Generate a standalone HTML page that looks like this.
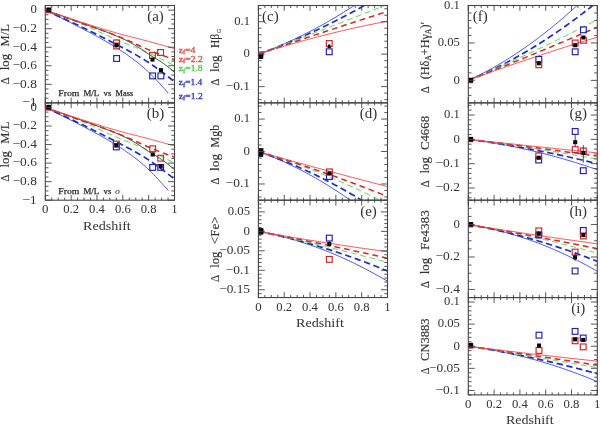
<!DOCTYPE html>
<html><head><meta charset="utf-8"><style>
html,body{margin:0;padding:0;background:#fff;}
body{width:600px;height:424px;overflow:hidden;font-family:"Liberation Serif",serif;}
svg{display:block;filter:blur(0.35px);}
</style></head><body>
<svg width="600" height="424" viewBox="0 0 600 424" font-family="Liberation Serif, serif" fill="#333">
<rect width="600" height="424" fill="#fff"/>
<clipPath id="cpa"><rect x="45.30" y="5.50" width="129.20" height="97.35"/></clipPath>
<g clip-path="url(#cpa)" fill="none" stroke-linecap="butt"><polyline points="45.30,10.14 47.38,11.16 49.47,12.18 51.55,13.21 53.64,14.23 55.72,15.26 57.81,16.29 59.89,17.32 61.98,18.35 64.06,19.39 66.15,20.43 68.23,21.47 70.32,22.51 72.40,23.56 74.49,24.62 76.57,25.68 78.66,26.74 80.74,27.81 82.82,28.89 84.91,29.97 86.99,31.06 89.08,32.16 91.16,33.26 93.25,34.38 95.33,35.51 97.42,36.64 99.50,37.79 101.59,38.96 103.67,40.14 105.76,41.33 107.84,42.55 109.93,43.78 112.01,45.03 114.10,46.30 116.18,47.59 118.27,48.91 120.35,50.24 122.43,51.61 124.52,53.00 126.60,54.42 128.69,55.88 130.77,57.37 132.86,58.91 134.94,60.49 137.03,62.12 139.11,63.80 141.20,65.53 143.28,67.32 145.37,69.17 147.45,71.08 149.54,73.06 151.62,75.10 153.71,77.22 155.79,79.38 157.87,81.60 159.96,83.85 162.04,86.14 164.13,88.45 166.21,90.78 168.30,93.11" stroke="#3545d0" stroke-width="0.9"/><polyline points="45.30,10.14 47.49,11.14 49.68,12.14 51.87,13.14 54.06,14.14 56.25,15.14 58.44,16.15 60.63,17.15 62.82,18.16 65.01,19.18 67.20,20.19 69.39,21.22 71.58,22.24 73.77,23.27 75.96,24.30 78.15,25.34 80.34,26.39 82.53,27.44 84.72,28.50 86.91,29.56 89.10,30.63 91.29,31.71 93.48,32.79 95.67,33.88 97.86,34.98 100.05,36.08 102.24,37.18 104.43,38.29 106.62,39.41 108.81,40.53 110.99,41.65 113.18,42.78 115.37,43.91 117.56,45.04 119.75,46.18 121.94,47.32 124.13,48.46 126.32,49.62 128.51,50.78 130.70,51.96 132.89,53.16 135.08,54.38 137.27,55.63 139.46,56.90 141.65,58.19 143.84,59.53 146.03,60.90 148.22,62.30 150.41,63.75 152.60,65.25 154.79,66.78 156.98,68.35 159.17,69.95 161.36,71.58 163.55,73.23 165.74,74.90 167.93,76.59 170.12,78.29 172.31,80.00 174.50,81.71" stroke="#1f2fb8" stroke-width="1.7" stroke-dasharray="6.4 3.6"/><polyline points="45.30,10.14 47.49,10.93 49.68,11.73 51.87,12.53 54.06,13.33 56.25,14.13 58.44,14.94 60.63,15.76 62.82,16.58 65.01,17.41 67.20,18.25 69.39,19.10 71.58,19.95 73.77,20.82 75.96,21.70 78.15,22.60 80.34,23.50 82.53,24.43 84.72,25.36 86.91,26.32 89.10,27.29 91.29,28.27 93.48,29.26 95.67,30.26 97.86,31.27 100.05,32.27 102.24,33.28 104.43,34.29 106.62,35.29 108.81,36.29 110.99,37.28 113.18,38.26 115.37,39.22 117.56,40.17 119.75,41.10 121.94,42.01 124.13,42.91 126.32,43.79 128.51,44.66 130.70,45.52 132.89,46.38 135.08,47.25 137.27,48.11 139.46,48.99 141.65,49.88 143.84,50.79 146.03,51.71 148.22,52.66 150.41,53.64 152.60,54.65 154.79,55.68 156.98,56.74 159.17,57.82 161.36,58.92 163.55,60.04 165.74,61.17 167.93,62.31 170.12,63.45 172.31,64.61 174.50,65.76" stroke="#78d878" stroke-width="1.1" stroke-dasharray="5.8 3.7"/><polyline points="45.30,10.14 47.49,10.91 49.68,11.68 51.87,12.45 54.06,13.23 56.25,14.00 58.44,14.77 60.63,15.55 62.82,16.32 65.01,17.10 67.20,17.87 69.39,18.65 71.58,19.43 73.77,20.20 75.96,20.98 78.15,21.76 80.34,22.54 82.53,23.33 84.72,24.11 86.91,24.90 89.10,25.68 91.29,26.47 93.48,27.26 95.67,28.05 97.86,28.85 100.05,29.64 102.24,30.44 104.43,31.25 106.62,32.06 108.81,32.89 110.99,33.74 113.18,34.61 115.37,35.50 117.56,36.42 119.75,37.37 121.94,38.36 124.13,39.38 126.32,40.45 128.51,41.56 130.70,42.72 132.89,43.94 135.08,45.22 137.27,46.55 139.46,47.96 141.65,49.42 143.84,50.91 146.03,52.41 148.22,53.87 150.41,55.29 152.60,56.63 154.79,57.92 156.98,59.21 159.17,60.54 161.36,61.96 163.55,63.50 165.74,65.13 167.93,66.84 170.12,68.61 172.31,70.42 174.50,72.25" stroke="#333" stroke-width="0.9"/><polyline points="45.30,10.14 47.49,10.92 49.68,11.71 51.87,12.50 54.06,13.29 56.25,14.08 58.44,14.86 60.63,15.65 62.82,16.43 65.01,17.22 67.20,18.00 69.39,18.78 71.58,19.56 73.77,20.33 75.96,21.11 78.15,21.88 80.34,22.65 82.53,23.42 84.72,24.19 86.91,24.95 89.10,25.72 91.29,26.48 93.48,27.24 95.67,28.01 97.86,28.78 100.05,29.55 102.24,30.33 104.43,31.12 106.62,31.92 108.81,32.73 110.99,33.55 113.18,34.39 115.37,35.24 117.56,36.11 119.75,36.99 121.94,37.89 124.13,38.81 126.32,39.76 128.51,40.72 130.70,41.70 132.89,42.70 135.08,43.70 137.27,44.70 139.46,45.70 141.65,46.70 143.84,47.69 146.03,48.67 148.22,49.64 150.41,50.58 152.60,51.50 154.79,52.39 156.98,53.26 159.17,54.11 161.36,54.95 163.55,55.77 165.74,56.58 167.93,57.38 170.12,58.17 172.31,58.95 174.50,59.74" stroke="#cc2a2a" stroke-width="1.5" stroke-dasharray="5.8 3.9"/><polyline points="45.30,10.14 47.49,10.87 49.68,11.60 51.87,12.33 54.06,13.06 56.25,13.79 58.44,14.52 60.63,15.25 62.82,15.98 65.01,16.71 67.20,17.43 69.39,18.16 71.58,18.88 73.77,19.60 75.96,20.32 78.15,21.04 80.34,21.75 82.53,22.47 84.72,23.18 86.91,23.89 89.10,24.59 91.29,25.30 93.48,26.00 95.67,26.69 97.86,27.38 100.05,28.06 102.24,28.74 104.43,29.42 106.62,30.08 108.81,30.74 110.99,31.39 113.18,32.03 115.37,32.66 117.56,33.28 119.75,33.89 121.94,34.49 124.13,35.09 126.32,35.66 128.51,36.23 130.70,36.79 132.89,37.35 135.08,37.90 137.27,38.46 139.46,39.02 141.65,39.58 143.84,40.15 146.03,40.73 148.22,41.31 150.41,41.90 152.60,42.50 154.79,43.10 156.98,43.70 159.17,44.30 161.36,44.91 163.55,45.53 165.74,46.14 167.93,46.76 170.12,47.37 172.31,47.99 174.50,48.61" stroke="#e8474a" stroke-width="0.9"/></g>
<g clip-path="url(#cpa)"><rect x="113.70" y="55.60" width="5.8" height="5.8" fill="none" stroke="#2020a6" stroke-width="1.15"/><rect x="149.70" y="73.00" width="5.8" height="5.8" fill="none" stroke="#2020a6" stroke-width="1.15"/><rect x="158.00" y="73.00" width="5.8" height="5.8" fill="none" stroke="#2020a6" stroke-width="1.15"/><rect x="46.50" y="8.50" width="4.2" height="4.2" fill="none" stroke="#bb2a2a" stroke-width="1.15"/><rect x="113.70" y="40.00" width="5.8" height="5.8" fill="none" stroke="#bb2a2a" stroke-width="1.15"/><rect x="113.70" y="43.10" width="5.8" height="5.8" fill="none" stroke="#bb2a2a" stroke-width="1.15"/><rect x="149.60" y="52.60" width="5.8" height="5.8" fill="none" stroke="#bb2a2a" stroke-width="1.15"/><rect x="157.70" y="49.60" width="5.8" height="5.8" fill="none" stroke="#bb2a2a" stroke-width="1.15"/><rect x="46.60" y="7.50" width="4.6" height="4.6" fill="#000"/><rect x="114.60" y="43.20" width="4.0" height="4.0" fill="#000"/><rect x="150.50" y="57.60" width="4.0" height="4.0" fill="#000"/><rect x="158.90" y="68.10" width="4.0" height="4.0" fill="#000"/></g>
<path d="M45.30 102.85h6.4M174.50 102.85h-6.4M45.30 98.21h3.2M174.50 98.21h-3.2M45.30 93.58h3.2M174.50 93.58h-3.2M45.30 88.94h3.2M174.50 88.94h-3.2M45.30 84.31h6.4M174.50 84.31h-6.4M45.30 79.67h3.2M174.50 79.67h-3.2M45.30 75.04h3.2M174.50 75.04h-3.2M45.30 70.40h3.2M174.50 70.40h-3.2M45.30 65.76h6.4M174.50 65.76h-6.4M45.30 61.13h3.2M174.50 61.13h-3.2M45.30 56.49h3.2M174.50 56.49h-3.2M45.30 51.86h3.2M174.50 51.86h-3.2M45.30 47.22h6.4M174.50 47.22h-6.4M45.30 42.59h3.2M174.50 42.59h-3.2M45.30 37.95h3.2M174.50 37.95h-3.2M45.30 33.31h3.2M174.50 33.31h-3.2M45.30 28.68h6.4M174.50 28.68h-6.4M45.30 24.04h3.2M174.50 24.04h-3.2M45.30 19.41h3.2M174.50 19.41h-3.2M45.30 14.77h3.2M174.50 14.77h-3.2M45.30 10.14h6.4M174.50 10.14h-6.4M45.30 5.50h3.2M174.50 5.50h-3.2M45.30 102.85v-5.3M45.30 5.50v5.3M51.76 102.85v-2.6M51.76 5.50v2.6M58.22 102.85v-2.6M58.22 5.50v2.6M64.68 102.85v-2.6M64.68 5.50v2.6M71.14 102.85v-5.3M71.14 5.50v5.3M77.60 102.85v-2.6M77.60 5.50v2.6M84.06 102.85v-2.6M84.06 5.50v2.6M90.52 102.85v-2.6M90.52 5.50v2.6M96.98 102.85v-5.3M96.98 5.50v5.3M103.44 102.85v-2.6M103.44 5.50v2.6M109.90 102.85v-2.6M109.90 5.50v2.6M116.36 102.85v-2.6M116.36 5.50v2.6M122.82 102.85v-5.3M122.82 5.50v5.3M129.28 102.85v-2.6M129.28 5.50v2.6M135.74 102.85v-2.6M135.74 5.50v2.6M142.20 102.85v-2.6M142.20 5.50v2.6M148.66 102.85v-5.3M148.66 5.50v5.3M155.12 102.85v-2.6M155.12 5.50v2.6M161.58 102.85v-2.6M161.58 5.50v2.6M168.04 102.85v-2.6M168.04 5.50v2.6M174.50 102.85v-5.3M174.50 5.50v5.3" stroke="#444" stroke-width="0.9" fill="none"/>
<rect x="45.30" y="5.50" width="129.20" height="97.35" fill="none" stroke="#444" stroke-width="1.1"/>
<text x="36.90" y="13.44" text-anchor="end" font-size="12.5" textLength="6.4" lengthAdjust="spacingAndGlyphs">0</text>
<text x="36.90" y="31.98" text-anchor="end" font-size="12.5" textLength="24.4" lengthAdjust="spacingAndGlyphs">−0.2</text>
<text x="36.90" y="50.52" text-anchor="end" font-size="12.5" textLength="24.4" lengthAdjust="spacingAndGlyphs">−0.4</text>
<text x="36.90" y="69.06" text-anchor="end" font-size="12.5" textLength="24.4" lengthAdjust="spacingAndGlyphs">−0.6</text>
<text x="36.90" y="87.61" text-anchor="end" font-size="12.5" textLength="24.4" lengthAdjust="spacingAndGlyphs">−0.8</text>
<text x="36.90" y="106.15" text-anchor="end" font-size="12.5" textLength="15.0" lengthAdjust="spacingAndGlyphs">−1</text>
<text x="155.50" y="21.00" text-anchor="middle" font-size="15">(a)</text>
<clipPath id="cpb"><rect x="45.30" y="102.85" width="129.20" height="97.35"/></clipPath>
<g clip-path="url(#cpb)" fill="none" stroke-linecap="butt"><polyline points="45.30,107.49 47.38,108.51 49.47,109.53 51.55,110.56 53.64,111.58 55.72,112.61 57.81,113.64 59.89,114.67 61.98,115.70 64.06,116.74 66.15,117.78 68.23,118.82 70.32,119.86 72.40,120.91 74.49,121.97 76.57,123.03 78.66,124.09 80.74,125.16 82.82,126.24 84.91,127.32 86.99,128.41 89.08,129.51 91.16,130.61 93.25,131.73 95.33,132.86 97.42,133.99 99.50,135.14 101.59,136.31 103.67,137.49 105.76,138.68 107.84,139.90 109.93,141.13 112.01,142.38 114.10,143.65 116.18,144.94 118.27,146.26 120.35,147.59 122.43,148.96 124.52,150.35 126.60,151.77 128.69,153.23 130.77,154.72 132.86,156.26 134.94,157.84 137.03,159.47 139.11,161.15 141.20,162.88 143.28,164.67 145.37,166.52 147.45,168.43 149.54,170.41 151.62,172.45 153.71,174.57 155.79,176.73 157.87,178.95 159.96,181.20 162.04,183.49 164.13,185.80 166.21,188.13 168.30,190.46" stroke="#3545d0" stroke-width="0.9"/><polyline points="45.30,107.49 47.49,108.49 49.68,109.49 51.87,110.49 54.06,111.49 56.25,112.49 58.44,113.50 60.63,114.50 62.82,115.51 65.01,116.53 67.20,117.54 69.39,118.57 71.58,119.59 73.77,120.62 75.96,121.65 78.15,122.69 80.34,123.74 82.53,124.79 84.72,125.85 86.91,126.91 89.10,127.98 91.29,129.06 93.48,130.14 95.67,131.23 97.86,132.33 100.05,133.43 102.24,134.53 104.43,135.64 106.62,136.76 108.81,137.88 110.99,139.00 113.18,140.13 115.37,141.26 117.56,142.39 119.75,143.53 121.94,144.67 124.13,145.81 126.32,146.97 128.51,148.13 130.70,149.31 132.89,150.51 135.08,151.73 137.27,152.98 139.46,154.25 141.65,155.54 143.84,156.88 146.03,158.25 148.22,159.65 150.41,161.10 152.60,162.60 154.79,164.13 156.98,165.70 159.17,167.30 161.36,168.93 163.55,170.58 165.74,172.25 167.93,173.94 170.12,175.64 172.31,177.35 174.50,179.06" stroke="#1f2fb8" stroke-width="1.7" stroke-dasharray="6.4 3.6"/><polyline points="45.30,107.49 47.49,108.28 49.68,109.08 51.87,109.88 54.06,110.68 56.25,111.48 58.44,112.29 60.63,113.11 62.82,113.93 65.01,114.76 67.20,115.60 69.39,116.45 71.58,117.30 73.77,118.17 75.96,119.05 78.15,119.95 80.34,120.85 82.53,121.78 84.72,122.71 86.91,123.67 89.10,124.64 91.29,125.62 93.48,126.61 95.67,127.61 97.86,128.62 100.05,129.62 102.24,130.63 104.43,131.64 106.62,132.64 108.81,133.64 110.99,134.63 113.18,135.61 115.37,136.57 117.56,137.52 119.75,138.45 121.94,139.36 124.13,140.26 126.32,141.14 128.51,142.01 130.70,142.87 132.89,143.73 135.08,144.60 137.27,145.46 139.46,146.34 141.65,147.23 143.84,148.14 146.03,149.06 148.22,150.01 150.41,150.99 152.60,152.00 154.79,153.03 156.98,154.09 159.17,155.17 161.36,156.27 163.55,157.39 165.74,158.52 167.93,159.66 170.12,160.80 172.31,161.96 174.50,163.11" stroke="#78d878" stroke-width="1.1" stroke-dasharray="5.8 3.7"/><polyline points="45.30,107.49 47.49,108.26 49.68,109.03 51.87,109.80 54.06,110.58 56.25,111.35 58.44,112.12 60.63,112.90 62.82,113.67 65.01,114.45 67.20,115.22 69.39,116.00 71.58,116.78 73.77,117.55 75.96,118.33 78.15,119.11 80.34,119.89 82.53,120.68 84.72,121.46 86.91,122.25 89.10,123.03 91.29,123.82 93.48,124.61 95.67,125.40 97.86,126.20 100.05,126.99 102.24,127.79 104.43,128.60 106.62,129.41 108.81,130.24 110.99,131.09 113.18,131.96 115.37,132.85 117.56,133.77 119.75,134.72 121.94,135.71 124.13,136.73 126.32,137.80 128.51,138.91 130.70,140.07 132.89,141.29 135.08,142.57 137.27,143.90 139.46,145.31 141.65,146.77 143.84,148.26 146.03,149.76 148.22,151.22 150.41,152.64 152.60,153.98 154.79,155.27 156.98,156.56 159.17,157.89 161.36,159.31 163.55,160.85 165.74,162.48 167.93,164.19 170.12,165.96 172.31,167.77 174.50,169.60" stroke="#333" stroke-width="0.9"/><polyline points="45.30,107.49 47.49,108.27 49.68,109.06 51.87,109.85 54.06,110.64 56.25,111.43 58.44,112.21 60.63,113.00 62.82,113.78 65.01,114.57 67.20,115.35 69.39,116.13 71.58,116.91 73.77,117.68 75.96,118.46 78.15,119.23 80.34,120.00 82.53,120.77 84.72,121.54 86.91,122.30 89.10,123.07 91.29,123.83 93.48,124.59 95.67,125.36 97.86,126.13 100.05,126.90 102.24,127.68 104.43,128.47 106.62,129.27 108.81,130.08 110.99,130.90 113.18,131.74 115.37,132.59 117.56,133.46 119.75,134.34 121.94,135.24 124.13,136.16 126.32,137.11 128.51,138.07 130.70,139.05 132.89,140.05 135.08,141.05 137.27,142.05 139.46,143.05 141.65,144.05 143.84,145.04 146.03,146.02 148.22,146.99 150.41,147.93 152.60,148.85 154.79,149.74 156.98,150.61 159.17,151.46 161.36,152.30 163.55,153.12 165.74,153.93 167.93,154.73 170.12,155.52 172.31,156.30 174.50,157.09" stroke="#cc2a2a" stroke-width="1.5" stroke-dasharray="5.8 3.9"/><polyline points="45.30,107.49 47.49,108.22 49.68,108.95 51.87,109.68 54.06,110.41 56.25,111.14 58.44,111.87 60.63,112.60 62.82,113.33 65.01,114.06 67.20,114.78 69.39,115.51 71.58,116.23 73.77,116.95 75.96,117.67 78.15,118.39 80.34,119.10 82.53,119.82 84.72,120.53 86.91,121.24 89.10,121.94 91.29,122.65 93.48,123.35 95.67,124.04 97.86,124.73 100.05,125.41 102.24,126.09 104.43,126.77 106.62,127.43 108.81,128.09 110.99,128.74 113.18,129.38 115.37,130.01 117.56,130.63 119.75,131.24 121.94,131.84 124.13,132.44 126.32,133.01 128.51,133.58 130.70,134.14 132.89,134.70 135.08,135.25 137.27,135.81 139.46,136.37 141.65,136.93 143.84,137.50 146.03,138.08 148.22,138.66 150.41,139.25 152.60,139.85 154.79,140.45 156.98,141.05 159.17,141.65 161.36,142.26 163.55,142.88 165.74,143.49 167.93,144.11 170.12,144.72 172.31,145.34 174.50,145.96" stroke="#e8474a" stroke-width="0.9"/></g>
<g clip-path="url(#cpb)"><rect x="113.40" y="144.00" width="5.8" height="5.8" fill="none" stroke="#2020a6" stroke-width="1.15"/><rect x="149.80" y="164.50" width="5.8" height="5.8" fill="none" stroke="#2020a6" stroke-width="1.15"/><rect x="157.80" y="164.50" width="5.8" height="5.8" fill="none" stroke="#2020a6" stroke-width="1.15"/><rect x="46.50" y="105.80" width="4.2" height="4.2" fill="none" stroke="#bb2a2a" stroke-width="1.15"/><rect x="113.40" y="141.20" width="5.8" height="5.8" fill="none" stroke="#bb2a2a" stroke-width="1.15"/><rect x="149.80" y="145.90" width="5.8" height="5.8" fill="none" stroke="#bb2a2a" stroke-width="1.15"/><rect x="157.80" y="155.30" width="5.8" height="5.8" fill="none" stroke="#bb2a2a" stroke-width="1.15"/><rect x="46.60" y="104.80" width="4.6" height="4.6" fill="#000"/><rect x="114.30" y="143.30" width="4.0" height="4.0" fill="#000"/><rect x="150.70" y="152.50" width="4.0" height="4.0" fill="#000"/><rect x="158.70" y="164.40" width="4.0" height="4.0" fill="#000"/></g>
<path d="M45.30 200.20h6.4M174.50 200.20h-6.4M45.30 195.56h3.2M174.50 195.56h-3.2M45.30 190.93h3.2M174.50 190.93h-3.2M45.30 186.29h3.2M174.50 186.29h-3.2M45.30 181.66h6.4M174.50 181.66h-6.4M45.30 177.02h3.2M174.50 177.02h-3.2M45.30 172.39h3.2M174.50 172.39h-3.2M45.30 167.75h3.2M174.50 167.75h-3.2M45.30 163.11h6.4M174.50 163.11h-6.4M45.30 158.48h3.2M174.50 158.48h-3.2M45.30 153.84h3.2M174.50 153.84h-3.2M45.30 149.21h3.2M174.50 149.21h-3.2M45.30 144.57h6.4M174.50 144.57h-6.4M45.30 139.94h3.2M174.50 139.94h-3.2M45.30 135.30h3.2M174.50 135.30h-3.2M45.30 130.66h3.2M174.50 130.66h-3.2M45.30 126.03h6.4M174.50 126.03h-6.4M45.30 121.39h3.2M174.50 121.39h-3.2M45.30 116.76h3.2M174.50 116.76h-3.2M45.30 112.12h3.2M174.50 112.12h-3.2M45.30 107.49h6.4M174.50 107.49h-6.4M45.30 102.85h3.2M174.50 102.85h-3.2M45.30 200.20v-5.3M45.30 102.85v5.3M51.76 200.20v-2.6M51.76 102.85v2.6M58.22 200.20v-2.6M58.22 102.85v2.6M64.68 200.20v-2.6M64.68 102.85v2.6M71.14 200.20v-5.3M71.14 102.85v5.3M77.60 200.20v-2.6M77.60 102.85v2.6M84.06 200.20v-2.6M84.06 102.85v2.6M90.52 200.20v-2.6M90.52 102.85v2.6M96.98 200.20v-5.3M96.98 102.85v5.3M103.44 200.20v-2.6M103.44 102.85v2.6M109.90 200.20v-2.6M109.90 102.85v2.6M116.36 200.20v-2.6M116.36 102.85v2.6M122.82 200.20v-5.3M122.82 102.85v5.3M129.28 200.20v-2.6M129.28 102.85v2.6M135.74 200.20v-2.6M135.74 102.85v2.6M142.20 200.20v-2.6M142.20 102.85v2.6M148.66 200.20v-5.3M148.66 102.85v5.3M155.12 200.20v-2.6M155.12 102.85v2.6M161.58 200.20v-2.6M161.58 102.85v2.6M168.04 200.20v-2.6M168.04 102.85v2.6M174.50 200.20v-5.3M174.50 102.85v5.3" stroke="#444" stroke-width="0.9" fill="none"/>
<rect x="45.30" y="102.85" width="129.20" height="97.35" fill="none" stroke="#444" stroke-width="1.1"/>
<text x="36.90" y="110.79" text-anchor="end" font-size="12.5" textLength="6.4" lengthAdjust="spacingAndGlyphs">0</text>
<text x="36.90" y="129.33" text-anchor="end" font-size="12.5" textLength="24.4" lengthAdjust="spacingAndGlyphs">−0.2</text>
<text x="36.90" y="147.87" text-anchor="end" font-size="12.5" textLength="24.4" lengthAdjust="spacingAndGlyphs">−0.4</text>
<text x="36.90" y="166.41" text-anchor="end" font-size="12.5" textLength="24.4" lengthAdjust="spacingAndGlyphs">−0.6</text>
<text x="36.90" y="184.96" text-anchor="end" font-size="12.5" textLength="24.4" lengthAdjust="spacingAndGlyphs">−0.8</text>
<text x="36.90" y="203.50" text-anchor="end" font-size="12.5" textLength="15.0" lengthAdjust="spacingAndGlyphs">−1</text>
<text x="155.50" y="118.35" text-anchor="middle" font-size="15">(b)</text>
<clipPath id="cpc"><rect x="258.40" y="5.50" width="129.10" height="97.35"/></clipPath>
<g clip-path="url(#cpc)" fill="none" stroke-linecap="butt"><polyline points="258.40,54.17 260.59,53.37 262.78,52.56 264.96,51.73 267.15,50.89 269.34,50.03 271.53,49.16 273.72,48.27 275.91,47.37 278.09,46.45 280.28,45.52 282.47,44.58 284.66,43.62 286.85,42.64 289.03,41.66 291.22,40.65 293.41,39.64 295.60,38.60 297.79,37.56 299.97,36.50 302.16,35.42 304.35,34.33 306.54,33.23 308.73,32.11 310.92,30.98 313.10,29.83 315.29,28.67 317.48,27.49 319.67,26.30 321.86,25.09 324.04,23.87 326.23,22.64 328.42,21.39 330.61,20.12 332.80,18.85 334.98,17.55 337.17,16.25 339.36,14.92 341.55,13.59 343.74,12.24 345.93,10.87 348.11,9.49 350.30,8.10 352.49,6.69 354.68,5.27 356.87,3.83 359.05,2.38 361.24,0.91 363.43,-0.57 365.62,-2.07 367.81,-3.58 369.99,-5.10 372.18,-6.64 374.37,-8.19 376.56,-9.76 378.75,-11.34 380.94,-12.94 383.12,-14.55 385.31,-16.18 387.50,-17.82" stroke="#3545d0" stroke-width="0.9"/><polyline points="258.40,54.17 260.59,53.38 262.78,52.58 264.96,51.78 267.15,50.96 269.34,50.13 271.53,49.30 273.72,48.45 275.91,47.60 278.09,46.74 280.28,45.86 282.47,44.98 284.66,44.09 286.85,43.20 289.03,42.29 291.22,41.37 293.41,40.45 295.60,39.51 297.79,38.57 299.97,37.62 302.16,36.66 304.35,35.69 306.54,34.71 308.73,33.72 310.92,32.72 313.10,31.72 315.29,30.70 317.48,29.68 319.67,28.65 321.86,27.60 324.04,26.55 326.23,25.49 328.42,24.42 330.61,23.35 332.80,22.26 334.98,21.16 337.17,20.06 339.36,18.95 341.55,17.82 343.74,16.69 345.93,15.55 348.11,14.40 350.30,13.24 352.49,12.08 354.68,10.90 356.87,9.72 359.05,8.52 361.24,7.32 363.43,6.11 365.62,4.89 367.81,3.66 369.99,2.42 372.18,1.17 374.37,-0.09 376.56,-1.35 378.75,-2.63 380.94,-3.91 383.12,-5.21 385.31,-6.51 387.50,-7.82" stroke="#1f2fb8" stroke-width="1.7" stroke-dasharray="6.4 3.6"/><polyline points="258.40,54.17 260.59,53.35 262.78,52.53 264.96,51.70 267.15,50.88 269.34,50.05 271.53,49.23 273.72,48.40 275.91,47.57 278.09,46.74 280.28,45.91 282.47,45.08 284.66,44.25 286.85,43.42 289.03,42.59 291.22,41.76 293.41,40.93 295.60,40.09 297.79,39.26 299.97,38.42 302.16,37.59 304.35,36.75 306.54,35.91 308.73,35.07 310.92,34.24 313.10,33.40 315.29,32.56 317.48,31.72 319.67,30.87 321.86,30.03 324.04,29.19 326.23,28.35 328.42,27.50 330.61,26.66 332.80,25.81 334.98,24.96 337.17,24.12 339.36,23.27 341.55,22.42 343.74,21.57 345.93,20.72 348.11,19.87 350.30,19.02 352.49,18.17 354.68,17.32 356.87,16.46 359.05,15.61 361.24,14.76 363.43,13.90 365.62,13.05 367.81,12.19 369.99,11.33 372.18,10.47 374.37,9.62 376.56,8.76 378.75,7.90 380.94,7.04 383.12,6.17 385.31,5.31 387.50,4.45" stroke="#78d878" stroke-width="1.1" stroke-dasharray="5.8 3.7"/><polyline points="258.40,54.17 260.59,53.42 262.78,52.67 264.96,51.91 267.15,51.16 269.34,50.41 271.53,49.66 273.72,48.92 275.91,48.17 278.09,47.42 280.28,46.68 282.47,45.93 284.66,45.19 286.85,44.45 289.03,43.71 291.22,42.97 293.41,42.23 295.60,41.49 297.79,40.76 299.97,40.02 302.16,39.29 304.35,38.56 306.54,37.82 308.73,37.09 310.92,36.36 313.10,35.63 315.29,34.91 317.48,34.18 319.67,33.45 321.86,32.73 324.04,32.01 326.23,31.28 328.42,30.56 330.61,29.84 332.80,29.12 334.98,28.41 337.17,27.69 339.36,26.97 341.55,26.26 343.74,25.55 345.93,24.83 348.11,24.12 350.30,23.41 352.49,22.70 354.68,22.00 356.87,21.29 359.05,20.58 361.24,19.88 363.43,19.17 365.62,18.47 367.81,17.77 369.99,17.07 372.18,16.37 374.37,15.67 376.56,14.97 378.75,14.28 380.94,13.58 383.12,12.89 385.31,12.20 387.50,11.50" stroke="#cc2a2a" stroke-width="1.5" stroke-dasharray="5.8 3.9"/><polyline points="258.40,54.17 260.59,53.47 262.78,52.77 264.96,52.08 267.15,51.39 269.34,50.71 271.53,50.03 273.72,49.35 275.91,48.69 278.09,48.02 280.28,47.36 282.47,46.71 284.66,46.06 286.85,45.42 289.03,44.78 291.22,44.14 293.41,43.52 295.60,42.89 297.79,42.27 299.97,41.66 302.16,41.05 304.35,40.45 306.54,39.85 308.73,39.25 310.92,38.67 313.10,38.08 315.29,37.50 317.48,36.93 319.67,36.36 321.86,35.80 324.04,35.24 326.23,34.68 328.42,34.13 330.61,33.59 332.80,33.05 334.98,32.52 337.17,31.99 339.36,31.47 341.55,30.95 343.74,30.43 345.93,29.92 348.11,29.42 350.30,28.92 352.49,28.43 354.68,27.94 356.87,27.46 359.05,26.98 361.24,26.50 363.43,26.03 365.62,25.57 367.81,25.11 369.99,24.66 372.18,24.21 374.37,23.76 376.56,23.33 378.75,22.89 380.94,22.46 383.12,22.04 385.31,21.62 387.50,21.21" stroke="#e8474a" stroke-width="0.9"/></g>
<g clip-path="url(#cpc)"><rect x="326.35" y="48.85" width="5.8" height="5.8" fill="none" stroke="#2020a6" stroke-width="1.15"/><rect x="258.70" y="51.90" width="4.2" height="4.2" fill="none" stroke="#bb2a2a" stroke-width="1.15"/><rect x="326.35" y="40.60" width="5.8" height="5.8" fill="none" stroke="#bb2a2a" stroke-width="1.15"/><rect x="258.50" y="54.00" width="4.6" height="4.6" fill="#000"/><rect x="258.6" y="54.2" width="4.50" height="4.60" fill="#000"/><rect x="328.1" y="44.5" width="2.30" height="2.00" fill="#000"/><rect x="327.6" y="46.4" width="3.30" height="1.60" fill="#000"/></g>
<path d="M258.40 99.61h3.2M387.50 99.61h-3.2M258.40 93.12h3.2M387.50 93.12h-3.2M258.40 86.62h6.4M387.50 86.62h-6.4M258.40 80.13h3.2M387.50 80.13h-3.2M258.40 73.64h3.2M387.50 73.64h-3.2M258.40 67.16h3.2M387.50 67.16h-3.2M258.40 60.66h3.2M387.50 60.66h-3.2M258.40 54.17h6.4M387.50 54.17h-6.4M258.40 47.69h3.2M387.50 47.69h-3.2M258.40 41.19h3.2M387.50 41.19h-3.2M258.40 34.70h3.2M387.50 34.70h-3.2M258.40 28.21h3.2M387.50 28.21h-3.2M258.40 21.72h6.4M387.50 21.72h-6.4M258.40 15.23h3.2M387.50 15.23h-3.2M258.40 8.74h3.2M387.50 8.74h-3.2M258.40 102.85v-5.3M258.40 5.50v5.3M264.85 102.85v-2.6M264.85 5.50v2.6M271.31 102.85v-2.6M271.31 5.50v2.6M277.76 102.85v-2.6M277.76 5.50v2.6M284.22 102.85v-5.3M284.22 5.50v5.3M290.67 102.85v-2.6M290.67 5.50v2.6M297.13 102.85v-2.6M297.13 5.50v2.6M303.58 102.85v-2.6M303.58 5.50v2.6M310.04 102.85v-5.3M310.04 5.50v5.3M316.50 102.85v-2.6M316.50 5.50v2.6M322.95 102.85v-2.6M322.95 5.50v2.6M329.40 102.85v-2.6M329.40 5.50v2.6M335.86 102.85v-5.3M335.86 5.50v5.3M342.31 102.85v-2.6M342.31 5.50v2.6M348.77 102.85v-2.6M348.77 5.50v2.6M355.23 102.85v-2.6M355.23 5.50v2.6M361.68 102.85v-5.3M361.68 5.50v5.3M368.13 102.85v-2.6M368.13 5.50v2.6M374.59 102.85v-2.6M374.59 5.50v2.6M381.05 102.85v-2.6M381.05 5.50v2.6M387.50 102.85v-5.3M387.50 5.50v5.3" stroke="#444" stroke-width="0.9" fill="none"/>
<rect x="258.40" y="5.50" width="129.10" height="97.35" fill="none" stroke="#444" stroke-width="1.1"/>
<text x="250.00" y="25.02" text-anchor="end" font-size="12.5" textLength="15.8" lengthAdjust="spacingAndGlyphs">0.1</text>
<text x="250.00" y="57.47" text-anchor="end" font-size="12.5" textLength="6.4" lengthAdjust="spacingAndGlyphs">0</text>
<text x="250.00" y="89.92" text-anchor="end" font-size="12.5" textLength="24.4" lengthAdjust="spacingAndGlyphs">−0.1</text>
<text x="270.40" y="21.00" text-anchor="middle" font-size="15">(c)</text>
<clipPath id="cpd"><rect x="258.40" y="102.85" width="129.10" height="97.35"/></clipPath>
<g clip-path="url(#cpd)" fill="none" stroke-linecap="butt"><polyline points="258.40,151.52 260.59,152.31 262.78,153.12 264.96,153.94 267.15,154.78 269.34,155.64 271.53,156.51 273.72,157.41 275.91,158.32 278.09,159.25 280.28,160.20 282.47,161.17 284.66,162.16 286.85,163.16 289.03,164.18 291.22,165.22 293.41,166.28 295.60,167.36 297.79,168.45 299.97,169.57 302.16,170.70 304.35,171.85 306.54,173.02 308.73,174.20 310.92,175.41 313.10,176.63 315.29,177.87 317.48,179.13 319.67,180.40 321.86,181.70 324.04,183.01 326.23,184.34 328.42,185.69 330.61,187.06 332.80,188.45 334.98,189.85 337.17,191.27 339.36,192.71 341.55,194.17 343.74,195.65 345.93,197.14 348.11,198.66 350.30,200.19 352.49,201.74 354.68,203.30 356.87,204.89 359.05,206.49 361.24,208.12 363.43,209.76 365.62,211.42 367.81,213.09 369.99,214.79 372.18,216.50 374.37,218.23 376.56,219.98 378.75,221.75 380.94,223.54 383.12,225.34 385.31,227.16 387.50,229.00" stroke="#3545d0" stroke-width="0.9"/><polyline points="258.40,151.52 260.59,152.26 262.78,153.01 264.96,153.77 267.15,154.55 269.34,155.34 271.53,156.14 273.72,156.95 275.91,157.78 278.09,158.62 280.28,159.47 282.47,160.33 284.66,161.21 286.85,162.10 289.03,163.00 291.22,163.92 293.41,164.85 295.60,165.79 297.79,166.74 299.97,167.71 302.16,168.68 304.35,169.68 306.54,170.68 308.73,171.70 310.92,172.73 313.10,173.77 315.29,174.83 317.48,175.89 319.67,176.98 321.86,178.07 324.04,179.18 326.23,180.29 328.42,181.43 330.61,182.57 332.80,183.73 334.98,184.90 337.17,186.08 339.36,187.28 341.55,188.49 343.74,189.71 345.93,190.94 348.11,192.19 350.30,193.45 352.49,194.72 354.68,196.00 356.87,197.30 359.05,198.61 361.24,199.93 363.43,201.27 365.62,202.62 367.81,203.98 369.99,205.35 372.18,206.74 374.37,208.14 376.56,209.55 378.75,210.98 380.94,212.41 383.12,213.86 385.31,215.33 387.50,216.80" stroke="#1f2fb8" stroke-width="1.7" stroke-dasharray="6.4 3.6"/><polyline points="258.40,151.52 260.59,152.18 262.78,152.84 264.96,153.51 267.15,154.18 269.34,154.87 271.53,155.56 273.72,156.26 275.91,156.97 278.09,157.69 280.28,158.42 282.47,159.15 284.66,159.89 286.85,160.65 289.03,161.41 291.22,162.17 293.41,162.95 295.60,163.73 297.79,164.53 299.97,165.33 302.16,166.14 304.35,166.95 306.54,167.78 308.73,168.62 310.92,169.46 313.10,170.31 315.29,171.17 317.48,172.04 319.67,172.91 321.86,173.79 324.04,174.69 326.23,175.59 328.42,176.50 330.61,177.41 332.80,178.34 334.98,179.27 337.17,180.22 339.36,181.17 341.55,182.12 343.74,183.09 345.93,184.07 348.11,185.05 350.30,186.04 352.49,187.04 354.68,188.05 356.87,189.07 359.05,190.09 361.24,191.13 363.43,192.17 365.62,193.22 367.81,194.28 369.99,195.34 372.18,196.42 374.37,197.50 376.56,198.59 378.75,199.69 380.94,200.80 383.12,201.92 385.31,203.04 387.50,204.17" stroke="#78d878" stroke-width="1.1" stroke-dasharray="5.8 3.7"/><polyline points="258.40,151.52 260.59,152.17 262.78,152.82 264.96,153.48 267.15,154.14 269.34,154.80 271.53,155.47 273.72,156.14 275.91,156.82 278.09,157.50 280.28,158.18 282.47,158.87 284.66,159.56 286.85,160.25 289.03,160.95 291.22,161.66 293.41,162.36 295.60,163.07 297.79,163.79 299.97,164.51 302.16,165.23 304.35,165.96 306.54,166.69 308.73,167.42 310.92,168.16 313.10,168.90 315.29,169.65 317.48,170.40 319.67,171.15 321.86,171.91 324.04,172.67 326.23,173.44 328.42,174.21 330.61,174.99 332.80,175.76 334.98,176.55 337.17,177.33 339.36,178.12 341.55,178.92 343.74,179.71 345.93,180.52 348.11,181.32 350.30,182.13 352.49,182.94 354.68,183.76 356.87,184.58 359.05,185.41 361.24,186.24 363.43,187.07 365.62,187.91 367.81,188.75 369.99,189.60 372.18,190.45 374.37,191.30 376.56,192.16 378.75,193.02 380.94,193.88 383.12,194.75 385.31,195.62 387.50,196.50" stroke="#cc2a2a" stroke-width="1.5" stroke-dasharray="5.8 3.9"/><polyline points="258.40,151.52 260.59,152.15 262.78,152.78 264.96,153.40 267.15,154.02 269.34,154.65 271.53,155.27 273.72,155.89 275.91,156.51 278.09,157.12 280.28,157.74 282.47,158.35 284.66,158.97 286.85,159.58 289.03,160.19 291.22,160.80 293.41,161.41 295.60,162.02 297.79,162.63 299.97,163.24 302.16,163.84 304.35,164.45 306.54,165.05 308.73,165.65 310.92,166.25 313.10,166.85 315.29,167.45 317.48,168.05 319.67,168.64 321.86,169.24 324.04,169.83 326.23,170.42 328.42,171.02 330.61,171.61 332.80,172.20 334.98,172.78 337.17,173.37 339.36,173.96 341.55,174.54 343.74,175.13 345.93,175.71 348.11,176.29 350.30,176.87 352.49,177.45 354.68,178.03 356.87,178.61 359.05,179.18 361.24,179.76 363.43,180.33 365.62,180.91 367.81,181.48 369.99,182.05 372.18,182.62 374.37,183.18 376.56,183.75 378.75,184.32 380.94,184.88 383.12,185.45 385.31,186.01 387.50,186.57" stroke="#e8474a" stroke-width="0.9"/></g>
<g clip-path="url(#cpd)"><rect x="326.50" y="173.60" width="5.8" height="5.8" fill="none" stroke="#2020a6" stroke-width="1.15"/><rect x="258.70" y="148.90" width="4.2" height="4.2" fill="none" stroke="#bb2a2a" stroke-width="1.15"/><rect x="326.50" y="169.00" width="5.8" height="5.8" fill="none" stroke="#bb2a2a" stroke-width="1.15"/><rect x="258.50" y="150.40" width="4.6" height="4.6" fill="#000"/><rect x="258.6" y="148.3" width="4.60" height="8.50" fill="#000"/><rect x="327.40" y="171.40" width="4.0" height="4.0" fill="#000"/><line x1="260.8" y1="148.3" x2="260.8" y2="157.0" stroke="#222" stroke-width="0.8"/></g>
<path d="M258.40 196.95h3.2M387.50 196.95h-3.2M258.40 190.47h3.2M387.50 190.47h-3.2M258.40 183.97h6.4M387.50 183.97h-6.4M258.40 177.48h3.2M387.50 177.48h-3.2M258.40 171.00h3.2M387.50 171.00h-3.2M258.40 164.50h3.2M387.50 164.50h-3.2M258.40 158.01h3.2M387.50 158.01h-3.2M258.40 151.52h6.4M387.50 151.52h-6.4M258.40 145.03h3.2M387.50 145.03h-3.2M258.40 138.54h3.2M387.50 138.54h-3.2M258.40 132.06h3.2M387.50 132.06h-3.2M258.40 125.56h3.2M387.50 125.56h-3.2M258.40 119.07h6.4M387.50 119.07h-6.4M258.40 112.58h3.2M387.50 112.58h-3.2M258.40 106.09h3.2M387.50 106.09h-3.2M258.40 200.20v-5.3M258.40 102.85v5.3M264.85 200.20v-2.6M264.85 102.85v2.6M271.31 200.20v-2.6M271.31 102.85v2.6M277.76 200.20v-2.6M277.76 102.85v2.6M284.22 200.20v-5.3M284.22 102.85v5.3M290.67 200.20v-2.6M290.67 102.85v2.6M297.13 200.20v-2.6M297.13 102.85v2.6M303.58 200.20v-2.6M303.58 102.85v2.6M310.04 200.20v-5.3M310.04 102.85v5.3M316.50 200.20v-2.6M316.50 102.85v2.6M322.95 200.20v-2.6M322.95 102.85v2.6M329.40 200.20v-2.6M329.40 102.85v2.6M335.86 200.20v-5.3M335.86 102.85v5.3M342.31 200.20v-2.6M342.31 102.85v2.6M348.77 200.20v-2.6M348.77 102.85v2.6M355.23 200.20v-2.6M355.23 102.85v2.6M361.68 200.20v-5.3M361.68 102.85v5.3M368.13 200.20v-2.6M368.13 102.85v2.6M374.59 200.20v-2.6M374.59 102.85v2.6M381.05 200.20v-2.6M381.05 102.85v2.6M387.50 200.20v-5.3M387.50 102.85v5.3" stroke="#444" stroke-width="0.9" fill="none"/>
<rect x="258.40" y="102.85" width="129.10" height="97.35" fill="none" stroke="#444" stroke-width="1.1"/>
<text x="250.00" y="122.37" text-anchor="end" font-size="12.5" textLength="15.8" lengthAdjust="spacingAndGlyphs">0.1</text>
<text x="250.00" y="154.82" text-anchor="end" font-size="12.5" textLength="6.4" lengthAdjust="spacingAndGlyphs">0</text>
<text x="250.00" y="187.28" text-anchor="end" font-size="12.5" textLength="24.4" lengthAdjust="spacingAndGlyphs">−0.1</text>
<text x="368.50" y="118.35" text-anchor="middle" font-size="15">(d)</text>
<clipPath id="cpe"><rect x="258.40" y="200.20" width="129.10" height="97.35"/></clipPath>
<g clip-path="url(#cpe)" fill="none" stroke-linecap="butt"><polyline points="258.40,231.35 260.59,231.76 262.78,232.17 264.96,232.61 267.15,233.06 269.34,233.52 271.53,234.00 273.72,234.50 275.91,235.01 278.09,235.53 280.28,236.07 282.47,236.63 284.66,237.20 286.85,237.79 289.03,238.39 291.22,239.00 293.41,239.64 295.60,240.28 297.79,240.94 299.97,241.62 302.16,242.31 304.35,243.02 306.54,243.75 308.73,244.48 310.92,245.24 313.10,246.01 315.29,246.79 317.48,247.59 319.67,248.40 321.86,249.23 324.04,250.08 326.23,250.94 328.42,251.81 330.61,252.70 332.80,253.61 334.98,254.53 337.17,255.47 339.36,256.42 341.55,257.38 343.74,258.37 345.93,259.36 348.11,260.37 350.30,261.40 352.49,262.44 354.68,263.50 356.87,264.58 359.05,265.66 361.24,266.77 363.43,267.89 365.62,269.02 367.81,270.17 369.99,271.33 372.18,272.51 374.37,273.71 376.56,274.92 378.75,276.14 380.94,277.38 383.12,278.64 385.31,279.91 387.50,281.20" stroke="#3545d0" stroke-width="0.9"/><polyline points="258.40,231.35 260.59,231.79 262.78,232.24 264.96,232.70 267.15,233.16 269.34,233.64 271.53,234.12 273.72,234.61 275.91,235.10 278.09,235.61 280.28,236.12 282.47,236.64 284.66,237.17 286.85,237.70 289.03,238.25 291.22,238.80 293.41,239.36 295.60,239.93 297.79,240.51 299.97,241.09 302.16,241.68 304.35,242.28 306.54,242.89 308.73,243.51 310.92,244.13 313.10,244.76 315.29,245.40 317.48,246.05 319.67,246.71 321.86,247.37 324.04,248.04 326.23,248.72 328.42,249.41 330.61,250.11 332.80,250.81 334.98,251.52 337.17,252.24 339.36,252.97 341.55,253.71 343.74,254.45 345.93,255.20 348.11,255.96 350.30,256.73 352.49,257.50 354.68,258.29 356.87,259.08 359.05,259.88 361.24,260.68 363.43,261.50 365.62,262.32 367.81,263.15 369.99,263.99 372.18,264.84 374.37,265.70 376.56,266.56 378.75,267.43 380.94,268.31 383.12,269.20 385.31,270.09 387.50,270.99" stroke="#1f2fb8" stroke-width="1.7" stroke-dasharray="6.4 3.6"/><polyline points="258.40,231.35 260.59,231.80 262.78,232.26 264.96,232.72 267.15,233.18 269.34,233.64 271.53,234.10 273.72,234.57 275.91,235.04 278.09,235.51 280.28,235.99 282.47,236.46 284.66,236.94 286.85,237.43 289.03,237.91 291.22,238.40 293.41,238.89 295.60,239.38 297.79,239.88 299.97,240.38 302.16,240.88 304.35,241.38 306.54,241.89 308.73,242.39 310.92,242.91 313.10,243.42 315.29,243.93 317.48,244.45 319.67,244.97 321.86,245.50 324.04,246.02 326.23,246.55 328.42,247.08 330.61,247.62 332.80,248.15 334.98,248.69 337.17,249.23 339.36,249.78 341.55,250.32 343.74,250.87 345.93,251.42 348.11,251.98 350.30,252.53 352.49,253.09 354.68,253.66 356.87,254.22 359.05,254.79 361.24,255.36 363.43,255.93 365.62,256.50 367.81,257.08 369.99,257.66 372.18,258.24 374.37,258.83 376.56,259.41 378.75,260.00 380.94,260.59 383.12,261.19 385.31,261.79 387.50,262.39" stroke="#78d878" stroke-width="1.1" stroke-dasharray="5.8 3.7"/><polyline points="258.40,231.35 260.59,231.77 262.78,232.19 264.96,232.61 267.15,233.03 269.34,233.45 271.53,233.87 273.72,234.30 275.91,234.72 278.09,235.15 280.28,235.58 282.47,236.01 284.66,236.44 286.85,236.87 289.03,237.30 291.22,237.74 293.41,238.18 295.60,238.61 297.79,239.05 299.97,239.49 302.16,239.94 304.35,240.38 306.54,240.82 308.73,241.27 310.92,241.72 313.10,242.17 315.29,242.62 317.48,243.07 319.67,243.52 321.86,243.97 324.04,244.43 326.23,244.89 328.42,245.34 330.61,245.80 332.80,246.27 334.98,246.73 337.17,247.19 339.36,247.66 341.55,248.12 343.74,248.59 345.93,249.06 348.11,249.53 350.30,250.00 352.49,250.47 354.68,250.95 356.87,251.42 359.05,251.90 361.24,252.38 363.43,252.86 365.62,253.34 367.81,253.82 369.99,254.30 372.18,254.79 374.37,255.27 376.56,255.76 378.75,256.25 380.94,256.74 383.12,257.23 385.31,257.73 387.50,258.22" stroke="#cc2a2a" stroke-width="1.5" stroke-dasharray="5.8 3.9"/><polyline points="258.40,231.35 260.59,231.74 262.78,232.13 264.96,232.52 267.15,232.91 269.34,233.30 271.53,233.68 273.72,234.06 275.91,234.44 278.09,234.82 280.28,235.20 282.47,235.58 284.66,235.95 286.85,236.32 289.03,236.70 291.22,237.07 293.41,237.43 295.60,237.80 297.79,238.17 299.97,238.53 302.16,238.89 304.35,239.25 306.54,239.61 308.73,239.97 310.92,240.33 313.10,240.68 315.29,241.03 317.48,241.38 319.67,241.73 321.86,242.08 324.04,242.43 326.23,242.77 328.42,243.12 330.61,243.46 332.80,243.80 334.98,244.14 337.17,244.47 339.36,244.81 341.55,245.14 343.74,245.48 345.93,245.81 348.11,246.14 350.30,246.46 352.49,246.79 354.68,247.11 356.87,247.44 359.05,247.76 361.24,248.08 363.43,248.40 365.62,248.71 367.81,249.03 369.99,249.34 372.18,249.66 374.37,249.97 376.56,250.27 378.75,250.58 380.94,250.89 383.12,251.19 385.31,251.49 387.50,251.80" stroke="#e8474a" stroke-width="0.9"/></g>
<g clip-path="url(#cpe)"><rect x="326.40" y="235.20" width="5.8" height="5.8" fill="none" stroke="#2020a6" stroke-width="1.15"/><rect x="258.70" y="229.20" width="4.2" height="4.2" fill="none" stroke="#bb2a2a" stroke-width="1.15"/><rect x="326.40" y="256.50" width="5.8" height="5.8" fill="none" stroke="#bb2a2a" stroke-width="1.15"/><rect x="258.50" y="228.30" width="4.6" height="4.6" fill="#000"/><rect x="258.6" y="228.4" width="4.60" height="6.20" fill="#000"/><rect x="327.30" y="242.00" width="4.0" height="4.0" fill="#000"/><line x1="260.8" y1="228.4" x2="260.8" y2="234.6" stroke="#222" stroke-width="0.8"/><line x1="329.3" y1="241.0" x2="329.3" y2="247.0" stroke="#222" stroke-width="0.8"/></g>
<path d="M258.40 297.55h3.2M387.50 297.55h-3.2M258.40 293.66h3.2M387.50 293.66h-3.2M258.40 289.76h6.4M387.50 289.76h-6.4M258.40 285.87h3.2M387.50 285.87h-3.2M258.40 281.97h3.2M387.50 281.97h-3.2M258.40 278.08h3.2M387.50 278.08h-3.2M258.40 274.19h3.2M387.50 274.19h-3.2M258.40 270.29h6.4M387.50 270.29h-6.4M258.40 266.40h3.2M387.50 266.40h-3.2M258.40 262.50h3.2M387.50 262.50h-3.2M258.40 258.61h3.2M387.50 258.61h-3.2M258.40 254.72h3.2M387.50 254.72h-3.2M258.40 250.82h6.4M387.50 250.82h-6.4M258.40 246.93h3.2M387.50 246.93h-3.2M258.40 243.03h3.2M387.50 243.03h-3.2M258.40 239.14h3.2M387.50 239.14h-3.2M258.40 235.25h3.2M387.50 235.25h-3.2M258.40 231.35h6.4M387.50 231.35h-6.4M258.40 227.46h3.2M387.50 227.46h-3.2M258.40 223.56h3.2M387.50 223.56h-3.2M258.40 219.67h3.2M387.50 219.67h-3.2M258.40 215.78h3.2M387.50 215.78h-3.2M258.40 211.88h6.4M387.50 211.88h-6.4M258.40 207.99h3.2M387.50 207.99h-3.2M258.40 204.09h3.2M387.50 204.09h-3.2M258.40 200.20h3.2M387.50 200.20h-3.2M258.40 297.55v-5.3M258.40 200.20v5.3M264.85 297.55v-2.6M264.85 200.20v2.6M271.31 297.55v-2.6M271.31 200.20v2.6M277.76 297.55v-2.6M277.76 200.20v2.6M284.22 297.55v-5.3M284.22 200.20v5.3M290.67 297.55v-2.6M290.67 200.20v2.6M297.13 297.55v-2.6M297.13 200.20v2.6M303.58 297.55v-2.6M303.58 200.20v2.6M310.04 297.55v-5.3M310.04 200.20v5.3M316.50 297.55v-2.6M316.50 200.20v2.6M322.95 297.55v-2.6M322.95 200.20v2.6M329.40 297.55v-2.6M329.40 200.20v2.6M335.86 297.55v-5.3M335.86 200.20v5.3M342.31 297.55v-2.6M342.31 200.20v2.6M348.77 297.55v-2.6M348.77 200.20v2.6M355.23 297.55v-2.6M355.23 200.20v2.6M361.68 297.55v-5.3M361.68 200.20v5.3M368.13 297.55v-2.6M368.13 200.20v2.6M374.59 297.55v-2.6M374.59 200.20v2.6M381.05 297.55v-2.6M381.05 200.20v2.6M387.50 297.55v-5.3M387.50 200.20v5.3" stroke="#444" stroke-width="0.9" fill="none"/>
<rect x="258.40" y="200.20" width="129.10" height="97.35" fill="none" stroke="#444" stroke-width="1.1"/>
<text x="250.00" y="215.18" text-anchor="end" font-size="12.5" textLength="22.2" lengthAdjust="spacingAndGlyphs">0.05</text>
<text x="250.00" y="234.65" text-anchor="end" font-size="12.5" textLength="6.4" lengthAdjust="spacingAndGlyphs">0</text>
<text x="250.00" y="254.12" text-anchor="end" font-size="12.5" textLength="30.8" lengthAdjust="spacingAndGlyphs">−0.05</text>
<text x="250.00" y="273.59" text-anchor="end" font-size="12.5" textLength="24.4" lengthAdjust="spacingAndGlyphs">−0.1</text>
<text x="250.00" y="293.06" text-anchor="end" font-size="12.5" textLength="30.8" lengthAdjust="spacingAndGlyphs">−0.15</text>
<text x="368.50" y="215.70" text-anchor="middle" font-size="15">(e)</text>
<clipPath id="cpf"><rect x="468.30" y="5.50" width="129.00" height="97.35"/></clipPath>
<g clip-path="url(#cpf)" fill="none" stroke-linecap="butt"><polyline points="468.30,80.38 470.49,79.38 472.67,78.35 474.86,77.30 477.05,76.23 479.23,75.14 481.42,74.03 483.61,72.90 485.79,71.74 487.98,70.57 490.16,69.38 492.35,68.17 494.54,66.93 496.72,65.68 498.91,64.41 501.10,63.11 503.28,61.80 505.47,60.46 507.66,59.11 509.84,57.73 512.03,56.34 514.22,54.92 516.40,53.48 518.59,52.02 520.77,50.55 522.96,49.05 525.15,47.53 527.33,45.99 529.52,44.43 531.71,42.85 533.89,41.25 536.08,39.63 538.27,37.99 540.45,36.33 542.64,34.65 544.83,32.95 547.01,31.22 549.20,29.48 551.38,27.72 553.57,25.93 555.76,24.13 557.94,22.31 560.13,20.46 562.32,18.60 564.50,16.71 566.69,14.81 568.88,12.88 571.06,10.93 573.25,8.97 575.44,6.98 577.62,4.97 579.81,2.94 581.99,0.89 584.18,-1.18 586.37,-3.27 588.55,-5.38 590.74,-7.51 592.93,-9.66 595.11,-11.83 597.30,-14.02" stroke="#3545d0" stroke-width="0.9"/><polyline points="468.30,80.38 470.49,79.49 472.67,78.58 474.86,77.66 477.05,76.72 479.23,75.77 481.42,74.80 483.61,73.82 485.79,72.82 487.98,71.81 490.16,70.78 492.35,69.74 494.54,68.68 496.72,67.60 498.91,66.51 501.10,65.41 503.28,64.29 505.47,63.15 507.66,62.00 509.84,60.84 512.03,59.66 514.22,58.46 516.40,57.25 518.59,56.03 520.77,54.79 522.96,53.53 525.15,52.26 527.33,50.97 529.52,49.67 531.71,48.36 533.89,47.02 536.08,45.68 538.27,44.32 540.45,42.94 542.64,41.55 544.83,40.14 547.01,38.72 549.20,37.28 551.38,35.83 553.57,34.36 555.76,32.87 557.94,31.38 560.13,29.86 562.32,28.33 564.50,26.79 566.69,25.23 568.88,23.66 571.06,22.07 573.25,20.46 575.44,18.84 577.62,17.21 579.81,15.56 581.99,13.90 584.18,12.22 586.37,10.52 588.55,8.81 590.74,7.08 592.93,5.34 595.11,3.59 597.30,1.82" stroke="#1f2fb8" stroke-width="1.7" stroke-dasharray="6.4 3.6"/><polyline points="468.30,80.38 470.49,79.47 472.67,78.54 474.86,77.62 477.05,76.69 479.23,75.75 481.42,74.81 483.61,73.87 485.79,72.93 487.98,71.98 490.16,71.03 492.35,70.07 494.54,69.11 496.72,68.15 498.91,67.18 501.10,66.21 503.28,65.23 505.47,64.25 507.66,63.27 509.84,62.28 512.03,61.29 514.22,60.30 516.40,59.30 518.59,58.30 520.77,57.29 522.96,56.28 525.15,55.27 527.33,54.25 529.52,53.23 531.71,52.21 533.89,51.18 536.08,50.15 538.27,49.11 540.45,48.07 542.64,47.03 544.83,45.98 547.01,44.93 549.20,43.88 551.38,42.82 553.57,41.76 555.76,40.69 557.94,39.62 560.13,38.55 562.32,37.47 564.50,36.39 566.69,35.31 568.88,34.22 571.06,33.13 573.25,32.03 575.44,30.93 577.62,29.83 579.81,28.72 581.99,27.61 584.18,26.50 586.37,25.38 588.55,24.25 590.74,23.13 592.93,22.00 595.11,20.87 597.30,19.73" stroke="#78d878" stroke-width="1.1" stroke-dasharray="5.8 3.7"/><polyline points="468.30,80.38 470.49,79.53 472.67,78.66 474.86,77.80 477.05,76.94 479.23,76.07 481.42,75.21 483.61,74.34 485.79,73.47 487.98,72.60 490.16,71.72 492.35,70.85 494.54,69.98 496.72,69.10 498.91,68.22 501.10,67.34 503.28,66.46 505.47,65.58 507.66,64.69 509.84,63.81 512.03,62.92 514.22,62.03 516.40,61.14 518.59,60.25 520.77,59.36 522.96,58.47 525.15,57.57 527.33,56.67 529.52,55.77 531.71,54.88 533.89,53.97 536.08,53.07 538.27,52.17 540.45,51.26 542.64,50.35 544.83,49.45 547.01,48.54 549.20,47.63 551.38,46.71 553.57,45.80 555.76,44.88 557.94,43.97 560.13,43.05 562.32,42.13 564.50,41.21 566.69,40.28 568.88,39.36 571.06,38.43 573.25,37.51 575.44,36.58 577.62,35.65 579.81,34.72 581.99,33.79 584.18,32.85 586.37,31.92 588.55,30.98 590.74,30.04 592.93,29.10 595.11,28.16 597.30,27.22" stroke="#cc2a2a" stroke-width="1.5" stroke-dasharray="5.8 3.9"/><polyline points="468.30,80.38 470.49,79.58 472.67,78.77 474.86,77.97 477.05,77.18 479.23,76.38 481.42,75.59 483.61,74.79 485.79,74.01 487.98,73.22 490.16,72.44 492.35,71.66 494.54,70.88 496.72,70.10 498.91,69.33 501.10,68.56 503.28,67.79 505.47,67.03 507.66,66.26 509.84,65.50 512.03,64.74 514.22,63.99 516.40,63.24 518.59,62.49 520.77,61.74 522.96,60.99 525.15,60.25 527.33,59.51 529.52,58.77 531.71,58.04 533.89,57.31 536.08,56.58 538.27,55.85 540.45,55.13 542.64,54.40 544.83,53.68 547.01,52.97 549.20,52.25 551.38,51.54 553.57,50.83 555.76,50.12 557.94,49.42 560.13,48.72 562.32,48.02 564.50,47.32 566.69,46.63 568.88,45.94 571.06,45.25 573.25,44.56 575.44,43.88 577.62,43.19 579.81,42.52 581.99,41.84 584.18,41.17 586.37,40.49 588.55,39.83 590.74,39.16 592.93,38.50 595.11,37.83 597.30,37.18" stroke="#e8474a" stroke-width="0.9"/></g>
<g clip-path="url(#cpf)"><rect x="535.90" y="56.50" width="5.8" height="5.8" fill="none" stroke="#2020a6" stroke-width="1.15"/><rect x="572.30" y="48.90" width="5.8" height="5.8" fill="none" stroke="#2020a6" stroke-width="1.15"/><rect x="580.50" y="26.90" width="5.8" height="5.8" fill="none" stroke="#2020a6" stroke-width="1.15"/><rect x="468.50" y="78.50" width="4.2" height="4.2" fill="none" stroke="#bb2a2a" stroke-width="1.15"/><rect x="535.90" y="61.90" width="5.8" height="5.8" fill="none" stroke="#bb2a2a" stroke-width="1.15"/><rect x="572.30" y="40.10" width="5.8" height="5.8" fill="none" stroke="#bb2a2a" stroke-width="1.15"/><rect x="580.50" y="37.40" width="5.8" height="5.8" fill="none" stroke="#bb2a2a" stroke-width="1.15"/><rect x="468.30" y="77.80" width="4.6" height="4.6" fill="#000"/><rect x="536.80" y="61.30" width="4.0" height="4.0" fill="#000"/><rect x="573.20" y="43.20" width="4.0" height="4.0" fill="#000"/><rect x="581.40" y="35.50" width="4.0" height="4.0" fill="#000"/></g>
<path d="M468.30 102.85h3.2M597.30 102.85h-3.2M468.30 95.36h3.2M597.30 95.36h-3.2M468.30 87.87h3.2M597.30 87.87h-3.2M468.30 80.38h6.4M597.30 80.38h-6.4M468.30 72.90h3.2M597.30 72.90h-3.2M468.30 65.41h3.2M597.30 65.41h-3.2M468.30 57.92h3.2M597.30 57.92h-3.2M468.30 50.43h3.2M597.30 50.43h-3.2M468.30 42.94h6.4M597.30 42.94h-6.4M468.30 35.45h3.2M597.30 35.45h-3.2M468.30 27.97h3.2M597.30 27.97h-3.2M468.30 20.48h3.2M597.30 20.48h-3.2M468.30 12.99h3.2M597.30 12.99h-3.2M468.30 5.50h6.4M597.30 5.50h-6.4M468.30 102.85v-5.3M468.30 5.50v5.3M474.75 102.85v-2.6M474.75 5.50v2.6M481.20 102.85v-2.6M481.20 5.50v2.6M487.65 102.85v-2.6M487.65 5.50v2.6M494.10 102.85v-5.3M494.10 5.50v5.3M500.55 102.85v-2.6M500.55 5.50v2.6M507.00 102.85v-2.6M507.00 5.50v2.6M513.45 102.85v-2.6M513.45 5.50v2.6M519.90 102.85v-5.3M519.90 5.50v5.3M526.35 102.85v-2.6M526.35 5.50v2.6M532.80 102.85v-2.6M532.80 5.50v2.6M539.25 102.85v-2.6M539.25 5.50v2.6M545.70 102.85v-5.3M545.70 5.50v5.3M552.15 102.85v-2.6M552.15 5.50v2.6M558.60 102.85v-2.6M558.60 5.50v2.6M565.05 102.85v-2.6M565.05 5.50v2.6M571.50 102.85v-5.3M571.50 5.50v5.3M577.95 102.85v-2.6M577.95 5.50v2.6M584.40 102.85v-2.6M584.40 5.50v2.6M590.85 102.85v-2.6M590.85 5.50v2.6M597.30 102.85v-5.3M597.30 5.50v5.3" stroke="#444" stroke-width="0.9" fill="none"/>
<rect x="468.30" y="5.50" width="129.00" height="97.35" fill="none" stroke="#444" stroke-width="1.1"/>
<text x="459.90" y="8.80" text-anchor="end" font-size="12.5" textLength="15.8" lengthAdjust="spacingAndGlyphs">0.1</text>
<text x="459.90" y="46.24" text-anchor="end" font-size="12.5" textLength="22.2" lengthAdjust="spacingAndGlyphs">0.05</text>
<text x="459.90" y="83.68" text-anchor="end" font-size="12.5" textLength="6.4" lengthAdjust="spacingAndGlyphs">0</text>
<text x="480.30" y="21.00" text-anchor="middle" font-size="15">(f)</text>
<clipPath id="cpg"><rect x="468.30" y="102.85" width="129.00" height="97.35"/></clipPath>
<g clip-path="url(#cpg)" fill="none" stroke-linecap="butt"><polyline points="468.30,139.36 470.49,139.63 472.67,139.91 474.86,140.20 477.05,140.50 479.23,140.81 481.42,141.12 483.61,141.44 485.79,141.77 487.98,142.11 490.16,142.46 492.35,142.82 494.54,143.18 496.72,143.56 498.91,143.94 501.10,144.33 503.28,144.73 505.47,145.13 507.66,145.55 509.84,145.97 512.03,146.40 514.22,146.84 516.40,147.29 518.59,147.75 520.77,148.21 522.96,148.68 525.15,149.17 527.33,149.66 529.52,150.15 531.71,150.66 533.89,151.18 536.08,151.70 538.27,152.23 540.45,152.77 542.64,153.32 544.83,153.87 547.01,154.44 549.20,155.01 551.38,155.59 553.57,156.18 555.76,156.78 557.94,157.39 560.13,158.00 562.32,158.63 564.50,159.26 566.69,159.90 568.88,160.55 571.06,161.20 573.25,161.87 575.44,162.54 577.62,163.22 579.81,163.91 581.99,164.61 584.18,165.32 586.37,166.03 588.55,166.75 590.74,167.49 592.93,168.22 595.11,168.97 597.30,169.73" stroke="#3545d0" stroke-width="0.9"/><polyline points="468.30,139.36 470.49,139.64 472.67,139.93 474.86,140.22 477.05,140.51 479.23,140.81 481.42,141.12 483.61,141.43 485.79,141.74 487.98,142.06 490.16,142.38 492.35,142.71 494.54,143.04 496.72,143.38 498.91,143.72 501.10,144.07 503.28,144.42 505.47,144.77 507.66,145.13 509.84,145.49 512.03,145.86 514.22,146.23 516.40,146.61 518.59,146.99 520.77,147.38 522.96,147.77 525.15,148.16 527.33,148.56 529.52,148.96 531.71,149.37 533.89,149.78 536.08,150.20 538.27,150.62 540.45,151.05 542.64,151.48 544.83,151.91 547.01,152.35 549.20,152.80 551.38,153.25 553.57,153.70 555.76,154.16 557.94,154.62 560.13,155.08 562.32,155.55 564.50,156.03 566.69,156.51 568.88,156.99 571.06,157.48 573.25,157.97 575.44,158.47 577.62,158.97 579.81,159.48 581.99,159.99 584.18,160.51 586.37,161.03 588.55,161.55 590.74,162.08 592.93,162.61 595.11,163.15 597.30,163.69" stroke="#1f2fb8" stroke-width="1.7" stroke-dasharray="6.4 3.6"/><polyline points="468.30,139.36 470.49,139.63 472.67,139.92 474.86,140.20 477.05,140.48 479.23,140.77 481.42,141.06 483.61,141.35 485.79,141.64 487.98,141.93 490.16,142.23 492.35,142.52 494.54,142.82 496.72,143.12 498.91,143.43 501.10,143.73 503.28,144.04 505.47,144.35 507.66,144.66 509.84,144.97 512.03,145.28 514.22,145.60 516.40,145.92 518.59,146.24 520.77,146.56 522.96,146.88 525.15,147.21 527.33,147.53 529.52,147.86 531.71,148.19 533.89,148.53 536.08,148.86 538.27,149.20 540.45,149.54 542.64,149.88 544.83,150.22 547.01,150.56 549.20,150.91 551.38,151.26 553.57,151.61 555.76,151.96 557.94,152.31 560.13,152.67 562.32,153.03 564.50,153.38 566.69,153.75 568.88,154.11 571.06,154.47 573.25,154.84 575.44,155.21 577.62,155.58 579.81,155.95 581.99,156.33 584.18,156.70 586.37,157.08 588.55,157.46 590.74,157.84 592.93,158.22 595.11,158.61 597.30,159.00" stroke="#78d878" stroke-width="1.1" stroke-dasharray="5.8 3.7"/><polyline points="468.30,139.36 470.49,139.62 472.67,139.88 474.86,140.14 477.05,140.40 479.23,140.67 481.42,140.93 483.61,141.20 485.79,141.46 487.98,141.73 490.16,142.00 492.35,142.27 494.54,142.54 496.72,142.81 498.91,143.08 501.10,143.35 503.28,143.62 505.47,143.90 507.66,144.17 509.84,144.45 512.03,144.72 514.22,145.00 516.40,145.28 518.59,145.56 520.77,145.84 522.96,146.12 525.15,146.40 527.33,146.68 529.52,146.96 531.71,147.25 533.89,147.53 536.08,147.81 538.27,148.10 540.45,148.39 542.64,148.67 544.83,148.96 547.01,149.25 549.20,149.54 551.38,149.83 553.57,150.12 555.76,150.42 557.94,150.71 560.13,151.00 562.32,151.30 564.50,151.59 566.69,151.89 568.88,152.19 571.06,152.49 573.25,152.78 575.44,153.08 577.62,153.38 579.81,153.69 581.99,153.99 584.18,154.29 586.37,154.59 588.55,154.90 590.74,155.20 592.93,155.51 595.11,155.82 597.30,156.12" stroke="#cc2a2a" stroke-width="1.5" stroke-dasharray="5.8 3.9"/><polyline points="468.30,139.36 470.49,139.59 472.67,139.82 474.86,140.05 477.05,140.28 479.23,140.52 481.42,140.75 483.61,140.98 485.79,141.21 487.98,141.44 490.16,141.67 492.35,141.91 494.54,142.14 496.72,142.37 498.91,142.60 501.10,142.83 503.28,143.06 505.47,143.29 507.66,143.52 509.84,143.75 512.03,143.98 514.22,144.21 516.40,144.45 518.59,144.68 520.77,144.91 522.96,145.14 525.15,145.37 527.33,145.60 529.52,145.83 531.71,146.06 533.89,146.29 536.08,146.52 538.27,146.74 540.45,146.97 542.64,147.20 544.83,147.43 547.01,147.66 549.20,147.89 551.38,148.12 553.57,148.35 555.76,148.58 557.94,148.81 560.13,149.04 562.32,149.26 564.50,149.49 566.69,149.72 568.88,149.95 571.06,150.18 573.25,150.41 575.44,150.64 577.62,150.86 579.81,151.09 581.99,151.32 584.18,151.55 586.37,151.77 588.55,152.00 590.74,152.23 592.93,152.46 595.11,152.68 597.30,152.91" stroke="#e8474a" stroke-width="0.9"/></g>
<g clip-path="url(#cpg)"><rect x="535.80" y="157.10" width="5.8" height="5.8" fill="none" stroke="#2020a6" stroke-width="1.15"/><rect x="572.30" y="128.60" width="5.8" height="5.8" fill="none" stroke="#2020a6" stroke-width="1.15"/><rect x="580.40" y="167.80" width="5.8" height="5.8" fill="none" stroke="#2020a6" stroke-width="1.15"/><rect x="468.50" y="137.40" width="4.2" height="4.2" fill="none" stroke="#bb2a2a" stroke-width="1.15"/><rect x="535.80" y="153.00" width="5.8" height="5.8" fill="none" stroke="#bb2a2a" stroke-width="1.15"/><rect x="572.30" y="146.70" width="5.8" height="5.8" fill="none" stroke="#bb2a2a" stroke-width="1.15"/><rect x="580.40" y="148.00" width="5.8" height="5.8" fill="none" stroke="#bb2a2a" stroke-width="1.15"/><rect x="468.30" y="137.00" width="4.6" height="4.6" fill="#000"/><rect x="536.70" y="155.70" width="4.0" height="4.0" fill="#000"/><rect x="573.20" y="140.20" width="4.0" height="4.0" fill="#000"/><rect x="581.30" y="150.90" width="4.0" height="4.0" fill="#000"/><line x1="575.2" y1="134.7" x2="575.2" y2="147.0" stroke="#222" stroke-width="0.8"/><line x1="583.3" y1="145.1" x2="583.3" y2="162.6" stroke="#222" stroke-width="0.8"/></g>
<path d="M468.30 197.77h3.2M597.30 197.77h-3.2M468.30 192.90h3.2M597.30 192.90h-3.2M468.30 188.03h6.4M597.30 188.03h-6.4M468.30 183.16h3.2M597.30 183.16h-3.2M468.30 178.30h3.2M597.30 178.30h-3.2M468.30 173.43h3.2M597.30 173.43h-3.2M468.30 168.56h3.2M597.30 168.56h-3.2M468.30 163.69h6.4M597.30 163.69h-6.4M468.30 158.83h3.2M597.30 158.83h-3.2M468.30 153.96h3.2M597.30 153.96h-3.2M468.30 149.09h3.2M597.30 149.09h-3.2M468.30 144.22h3.2M597.30 144.22h-3.2M468.30 139.36h6.4M597.30 139.36h-6.4M468.30 134.49h3.2M597.30 134.49h-3.2M468.30 129.62h3.2M597.30 129.62h-3.2M468.30 124.75h3.2M597.30 124.75h-3.2M468.30 119.89h3.2M597.30 119.89h-3.2M468.30 115.02h6.4M597.30 115.02h-6.4M468.30 110.15h3.2M597.30 110.15h-3.2M468.30 105.28h3.2M597.30 105.28h-3.2M468.30 200.20v-5.3M468.30 102.85v5.3M474.75 200.20v-2.6M474.75 102.85v2.6M481.20 200.20v-2.6M481.20 102.85v2.6M487.65 200.20v-2.6M487.65 102.85v2.6M494.10 200.20v-5.3M494.10 102.85v5.3M500.55 200.20v-2.6M500.55 102.85v2.6M507.00 200.20v-2.6M507.00 102.85v2.6M513.45 200.20v-2.6M513.45 102.85v2.6M519.90 200.20v-5.3M519.90 102.85v5.3M526.35 200.20v-2.6M526.35 102.85v2.6M532.80 200.20v-2.6M532.80 102.85v2.6M539.25 200.20v-2.6M539.25 102.85v2.6M545.70 200.20v-5.3M545.70 102.85v5.3M552.15 200.20v-2.6M552.15 102.85v2.6M558.60 200.20v-2.6M558.60 102.85v2.6M565.05 200.20v-2.6M565.05 102.85v2.6M571.50 200.20v-5.3M571.50 102.85v5.3M577.95 200.20v-2.6M577.95 102.85v2.6M584.40 200.20v-2.6M584.40 102.85v2.6M590.85 200.20v-2.6M590.85 102.85v2.6M597.30 200.20v-5.3M597.30 102.85v5.3" stroke="#444" stroke-width="0.9" fill="none"/>
<rect x="468.30" y="102.85" width="129.00" height="97.35" fill="none" stroke="#444" stroke-width="1.1"/>
<text x="459.90" y="118.32" text-anchor="end" font-size="12.5" textLength="15.8" lengthAdjust="spacingAndGlyphs">0.1</text>
<text x="459.90" y="142.66" text-anchor="end" font-size="12.5" textLength="6.4" lengthAdjust="spacingAndGlyphs">0</text>
<text x="459.90" y="166.99" text-anchor="end" font-size="12.5" textLength="24.4" lengthAdjust="spacingAndGlyphs">−0.1</text>
<text x="459.90" y="191.33" text-anchor="end" font-size="12.5" textLength="24.4" lengthAdjust="spacingAndGlyphs">−0.2</text>
<text x="578.30" y="118.35" text-anchor="middle" font-size="15">(g)</text>
<clipPath id="cph"><rect x="468.30" y="200.20" width="129.00" height="97.35"/></clipPath>
<g clip-path="url(#cph)" fill="none" stroke-linecap="butt"><polyline points="468.30,224.54 470.49,224.88 472.67,225.23 474.86,225.60 477.05,225.99 479.23,226.39 481.42,226.81 483.61,227.24 485.79,227.69 487.98,228.16 490.16,228.64 492.35,229.13 494.54,229.64 496.72,230.17 498.91,230.71 501.10,231.27 503.28,231.84 505.47,232.43 507.66,233.04 509.84,233.66 512.03,234.29 514.22,234.95 516.40,235.61 518.59,236.30 520.77,236.99 522.96,237.71 525.15,238.44 527.33,239.18 529.52,239.94 531.71,240.72 533.89,241.51 536.08,242.32 538.27,243.14 540.45,243.98 542.64,244.84 544.83,245.71 547.01,246.59 549.20,247.49 551.38,248.41 553.57,249.34 555.76,250.29 557.94,251.25 560.13,252.23 562.32,253.23 564.50,254.24 566.69,255.26 568.88,256.31 571.06,257.36 573.25,258.44 575.44,259.52 577.62,260.63 579.81,261.75 581.99,262.88 584.18,264.03 586.37,265.20 588.55,266.38 590.74,267.58 592.93,268.79 595.11,270.02 597.30,271.27" stroke="#3545d0" stroke-width="0.9"/><polyline points="468.30,224.54 470.49,224.92 472.67,225.32 474.86,225.72 477.05,226.13 479.23,226.55 481.42,226.97 483.61,227.41 485.79,227.85 487.98,228.30 490.16,228.76 492.35,229.23 494.54,229.71 496.72,230.19 498.91,230.68 501.10,231.18 503.28,231.69 505.47,232.21 507.66,232.74 509.84,233.27 512.03,233.81 514.22,234.36 516.40,234.92 518.59,235.49 520.77,236.06 522.96,236.65 525.15,237.24 527.33,237.84 529.52,238.44 531.71,239.06 533.89,239.68 536.08,240.32 538.27,240.96 540.45,241.61 542.64,242.26 544.83,242.93 547.01,243.60 549.20,244.28 551.38,244.97 553.57,245.67 555.76,246.38 557.94,247.09 560.13,247.82 562.32,248.55 564.50,249.29 566.69,250.04 568.88,250.79 571.06,251.56 573.25,252.33 575.44,253.11 577.62,253.90 579.81,254.70 581.99,255.50 584.18,256.31 586.37,257.14 588.55,257.97 590.74,258.80 592.93,259.65 595.11,260.51 597.30,261.37" stroke="#1f2fb8" stroke-width="1.7" stroke-dasharray="6.4 3.6"/><polyline points="468.30,224.54 470.49,224.89 472.67,225.25 474.86,225.62 477.05,225.99 479.23,226.36 481.42,226.74 483.61,227.13 485.79,227.51 487.98,227.91 490.16,228.30 492.35,228.70 494.54,229.11 496.72,229.52 498.91,229.94 501.10,230.35 503.28,230.78 505.47,231.21 507.66,231.64 509.84,232.08 512.03,232.52 514.22,232.97 516.40,233.42 518.59,233.87 520.77,234.33 522.96,234.80 525.15,235.26 527.33,235.74 529.52,236.21 531.71,236.70 533.89,237.18 536.08,237.68 538.27,238.17 540.45,238.67 542.64,239.18 544.83,239.69 547.01,240.20 549.20,240.72 551.38,241.24 553.57,241.77 555.76,242.30 557.94,242.83 560.13,243.38 562.32,243.92 564.50,244.47 566.69,245.02 568.88,245.58 571.06,246.15 573.25,246.71 575.44,247.29 577.62,247.86 579.81,248.44 581.99,249.03 584.18,249.62 586.37,250.21 588.55,250.81 590.74,251.42 592.93,252.03 595.11,252.64 597.30,253.26" stroke="#78d878" stroke-width="1.1" stroke-dasharray="5.8 3.7"/><polyline points="468.30,224.54 470.49,224.91 472.67,225.28 474.86,225.66 477.05,226.03 479.23,226.41 481.42,226.79 483.61,227.17 485.79,227.55 487.98,227.93 490.16,228.32 492.35,228.70 494.54,229.09 496.72,229.48 498.91,229.86 501.10,230.25 503.28,230.65 505.47,231.04 507.66,231.43 509.84,231.83 512.03,232.23 514.22,232.62 516.40,233.02 518.59,233.42 520.77,233.83 522.96,234.23 525.15,234.63 527.33,235.04 529.52,235.45 531.71,235.85 533.89,236.26 536.08,236.68 538.27,237.09 540.45,237.50 542.64,237.92 544.83,238.33 547.01,238.75 549.20,239.17 551.38,239.59 553.57,240.01 555.76,240.43 557.94,240.86 560.13,241.28 562.32,241.71 564.50,242.14 566.69,242.57 568.88,243.00 571.06,243.43 573.25,243.86 575.44,244.30 577.62,244.73 579.81,245.17 581.99,245.61 584.18,246.05 586.37,246.49 588.55,246.93 590.74,247.37 592.93,247.82 595.11,248.27 597.30,248.71" stroke="#cc2a2a" stroke-width="1.5" stroke-dasharray="5.8 3.9"/><polyline points="468.30,224.54 470.49,224.89 472.67,225.24 474.86,225.59 477.05,225.93 479.23,226.28 481.42,226.63 483.61,226.97 485.79,227.32 487.98,227.66 490.16,228.00 492.35,228.35 494.54,228.69 496.72,229.03 498.91,229.37 501.10,229.71 503.28,230.05 505.47,230.38 507.66,230.72 509.84,231.06 512.03,231.39 514.22,231.73 516.40,232.06 518.59,232.39 520.77,232.72 522.96,233.06 525.15,233.39 527.33,233.72 529.52,234.04 531.71,234.37 533.89,234.70 536.08,235.03 538.27,235.35 540.45,235.68 542.64,236.00 544.83,236.32 547.01,236.65 549.20,236.97 551.38,237.29 553.57,237.61 555.76,237.93 557.94,238.25 560.13,238.56 562.32,238.88 564.50,239.20 566.69,239.51 568.88,239.83 571.06,240.14 573.25,240.45 575.44,240.77 577.62,241.08 579.81,241.39 581.99,241.70 584.18,242.01 586.37,242.32 588.55,242.62 590.74,242.93 592.93,243.24 595.11,243.54 597.30,243.85" stroke="#e8474a" stroke-width="0.9"/></g>
<g clip-path="url(#cph)"><rect x="535.90" y="232.10" width="5.8" height="5.8" fill="none" stroke="#2020a6" stroke-width="1.15"/><rect x="572.20" y="268.10" width="5.8" height="5.8" fill="none" stroke="#2020a6" stroke-width="1.15"/><rect x="580.40" y="227.60" width="5.8" height="5.8" fill="none" stroke="#2020a6" stroke-width="1.15"/><rect x="468.50" y="222.70" width="4.2" height="4.2" fill="none" stroke="#bb2a2a" stroke-width="1.15"/><rect x="535.90" y="228.00" width="5.8" height="5.8" fill="none" stroke="#bb2a2a" stroke-width="1.15"/><rect x="572.20" y="249.20" width="5.8" height="5.8" fill="none" stroke="#bb2a2a" stroke-width="1.15"/><rect x="580.40" y="233.10" width="5.8" height="5.8" fill="none" stroke="#bb2a2a" stroke-width="1.15"/><rect x="468.30" y="222.10" width="4.6" height="4.6" fill="#000"/><rect x="536.80" y="231.60" width="4.0" height="4.0" fill="#000"/><rect x="573.10" y="255.30" width="4.0" height="4.0" fill="#000"/><rect x="581.30" y="233.20" width="4.0" height="4.0" fill="#000"/><line x1="575.1" y1="254.0" x2="575.1" y2="261.0" stroke="#222" stroke-width="0.8"/><line x1="538.8" y1="231.0" x2="538.8" y2="236.5" stroke="#222" stroke-width="0.8"/></g>
<path d="M468.30 297.55h3.2M597.30 297.55h-3.2M468.30 289.44h6.4M597.30 289.44h-6.4M468.30 281.33h3.2M597.30 281.33h-3.2M468.30 273.21h3.2M597.30 273.21h-3.2M468.30 265.10h3.2M597.30 265.10h-3.2M468.30 256.99h6.4M597.30 256.99h-6.4M468.30 248.88h3.2M597.30 248.88h-3.2M468.30 240.76h3.2M597.30 240.76h-3.2M468.30 232.65h3.2M597.30 232.65h-3.2M468.30 224.54h6.4M597.30 224.54h-6.4M468.30 216.42h3.2M597.30 216.42h-3.2M468.30 208.31h3.2M597.30 208.31h-3.2M468.30 200.20h3.2M597.30 200.20h-3.2M468.30 297.55v-5.3M468.30 200.20v5.3M474.75 297.55v-2.6M474.75 200.20v2.6M481.20 297.55v-2.6M481.20 200.20v2.6M487.65 297.55v-2.6M487.65 200.20v2.6M494.10 297.55v-5.3M494.10 200.20v5.3M500.55 297.55v-2.6M500.55 200.20v2.6M507.00 297.55v-2.6M507.00 200.20v2.6M513.45 297.55v-2.6M513.45 200.20v2.6M519.90 297.55v-5.3M519.90 200.20v5.3M526.35 297.55v-2.6M526.35 200.20v2.6M532.80 297.55v-2.6M532.80 200.20v2.6M539.25 297.55v-2.6M539.25 200.20v2.6M545.70 297.55v-5.3M545.70 200.20v5.3M552.15 297.55v-2.6M552.15 200.20v2.6M558.60 297.55v-2.6M558.60 200.20v2.6M565.05 297.55v-2.6M565.05 200.20v2.6M571.50 297.55v-5.3M571.50 200.20v5.3M577.95 297.55v-2.6M577.95 200.20v2.6M584.40 297.55v-2.6M584.40 200.20v2.6M590.85 297.55v-2.6M590.85 200.20v2.6M597.30 297.55v-5.3M597.30 200.20v5.3" stroke="#444" stroke-width="0.9" fill="none"/>
<rect x="468.30" y="200.20" width="129.00" height="97.35" fill="none" stroke="#444" stroke-width="1.1"/>
<text x="459.90" y="227.84" text-anchor="end" font-size="12.5" textLength="6.4" lengthAdjust="spacingAndGlyphs">0</text>
<text x="459.90" y="260.29" text-anchor="end" font-size="12.5" textLength="24.4" lengthAdjust="spacingAndGlyphs">−0.2</text>
<text x="459.90" y="292.74" text-anchor="end" font-size="12.5" textLength="24.4" lengthAdjust="spacingAndGlyphs">−0.4</text>
<text x="578.30" y="215.70" text-anchor="middle" font-size="15">(h)</text>
<clipPath id="cpi"><rect x="468.30" y="297.55" width="129.00" height="97.35"/></clipPath>
<g clip-path="url(#cpi)" fill="none" stroke-linecap="butt"><polyline points="468.30,346.23 470.49,346.51 472.67,346.81 474.86,347.12 477.05,347.44 479.23,347.77 481.42,348.11 483.61,348.46 485.79,348.82 487.98,349.20 490.16,349.58 492.35,349.97 494.54,350.38 496.72,350.80 498.91,351.22 501.10,351.66 503.28,352.11 505.47,352.57 507.66,353.04 509.84,353.52 512.03,354.01 514.22,354.52 516.40,355.03 518.59,355.56 520.77,356.09 522.96,356.64 525.15,357.19 527.33,357.76 529.52,358.34 531.71,358.93 533.89,359.53 536.08,360.14 538.27,360.76 540.45,361.39 542.64,362.04 544.83,362.69 547.01,363.36 549.20,364.03 551.38,364.72 553.57,365.41 555.76,366.12 557.94,366.84 560.13,367.57 562.32,368.31 564.50,369.06 566.69,369.82 568.88,370.60 571.06,371.38 573.25,372.17 575.44,372.98 577.62,373.80 579.81,374.62 581.99,375.46 584.18,376.31 586.37,377.17 588.55,378.04 590.74,378.92 592.93,379.81 595.11,380.71 597.30,381.62" stroke="#3545d0" stroke-width="0.9"/><polyline points="468.30,346.23 470.49,346.55 472.67,346.89 474.86,347.22 477.05,347.57 479.23,347.91 481.42,348.26 483.61,348.62 485.79,348.98 487.98,349.35 490.16,349.72 492.35,350.10 494.54,350.48 496.72,350.86 498.91,351.25 501.10,351.65 503.28,352.05 505.47,352.45 507.66,352.86 509.84,353.28 512.03,353.70 514.22,354.12 516.40,354.55 518.59,354.99 520.77,355.43 522.96,355.87 525.15,356.32 527.33,356.77 529.52,357.23 531.71,357.69 533.89,358.16 536.08,358.63 538.27,359.11 540.45,359.59 542.64,360.08 544.83,360.57 547.01,361.07 549.20,361.57 551.38,362.08 553.57,362.59 555.76,363.11 557.94,363.63 560.13,364.15 562.32,364.69 564.50,365.22 566.69,365.76 568.88,366.31 571.06,366.86 573.25,367.41 575.44,367.97 577.62,368.54 579.81,369.11 581.99,369.68 584.18,370.26 586.37,370.84 588.55,371.43 590.74,372.03 592.93,372.63 595.11,373.23 597.30,373.84" stroke="#1f2fb8" stroke-width="1.7" stroke-dasharray="6.4 3.6"/><polyline points="468.30,346.23 470.49,346.56 472.67,346.90 474.86,347.24 477.05,347.59 479.23,347.93 481.42,348.27 483.61,348.61 485.79,348.96 487.98,349.31 490.16,349.65 492.35,350.00 494.54,350.35 496.72,350.70 498.91,351.05 501.10,351.40 503.28,351.75 505.47,352.10 507.66,352.46 509.84,352.81 512.03,353.17 514.22,353.53 516.40,353.88 518.59,354.24 520.77,354.60 522.96,354.96 525.15,355.32 527.33,355.68 529.52,356.05 531.71,356.41 533.89,356.77 536.08,357.14 538.27,357.51 540.45,357.87 542.64,358.24 544.83,358.61 547.01,358.98 549.20,359.35 551.38,359.72 553.57,360.09 555.76,360.47 557.94,360.84 560.13,361.22 562.32,361.59 564.50,361.97 566.69,362.35 568.88,362.73 571.06,363.11 573.25,363.49 575.44,363.87 577.62,364.25 579.81,364.63 581.99,365.02 584.18,365.40 586.37,365.79 588.55,366.17 590.74,366.56 592.93,366.95 595.11,367.34 597.30,367.73" stroke="#78d878" stroke-width="1.1" stroke-dasharray="5.8 3.7"/><polyline points="468.30,346.23 470.49,346.52 472.67,346.82 474.86,347.11 477.05,347.41 479.23,347.71 481.42,348.01 483.61,348.31 485.79,348.62 487.98,348.92 490.16,349.22 492.35,349.53 494.54,349.84 496.72,350.14 498.91,350.45 501.10,350.76 503.28,351.07 505.47,351.38 507.66,351.69 509.84,352.01 512.03,352.32 514.22,352.64 516.40,352.95 518.59,353.27 520.77,353.59 522.96,353.91 525.15,354.23 527.33,354.55 529.52,354.87 531.71,355.19 533.89,355.52 536.08,355.84 538.27,356.17 540.45,356.50 542.64,356.82 544.83,357.15 547.01,357.48 549.20,357.81 551.38,358.15 553.57,358.48 555.76,358.81 557.94,359.15 560.13,359.48 562.32,359.82 564.50,360.16 566.69,360.50 568.88,360.84 571.06,361.18 573.25,361.52 575.44,361.86 577.62,362.20 579.81,362.55 581.99,362.89 584.18,363.24 586.37,363.59 588.55,363.94 590.74,364.29 592.93,364.64 595.11,364.99 597.30,365.34" stroke="#cc2a2a" stroke-width="1.5" stroke-dasharray="5.8 3.9"/><polyline points="468.30,346.23 470.49,346.50 472.67,346.78 474.86,347.05 477.05,347.32 479.23,347.60 481.42,347.87 483.61,348.14 485.79,348.41 487.98,348.68 490.16,348.95 492.35,349.21 494.54,349.48 496.72,349.75 498.91,350.01 501.10,350.28 503.28,350.54 505.47,350.80 507.66,351.07 509.84,351.33 512.03,351.59 514.22,351.85 516.40,352.11 518.59,352.37 520.77,352.62 522.96,352.88 525.15,353.14 527.33,353.39 529.52,353.65 531.71,353.90 533.89,354.15 536.08,354.40 538.27,354.65 540.45,354.90 542.64,355.15 544.83,355.40 547.01,355.65 549.20,355.90 551.38,356.14 553.57,356.39 555.76,356.64 557.94,356.88 560.13,357.12 562.32,357.37 564.50,357.61 566.69,357.85 568.88,358.09 571.06,358.33 573.25,358.57 575.44,358.80 577.62,359.04 579.81,359.28 581.99,359.51 584.18,359.75 586.37,359.98 588.55,360.21 590.74,360.45 592.93,360.68 595.11,360.91 597.30,361.14" stroke="#e8474a" stroke-width="0.9"/></g>
<g clip-path="url(#cpi)"><rect x="536.10" y="332.30" width="5.8" height="5.8" fill="none" stroke="#2020a6" stroke-width="1.15"/><rect x="572.20" y="328.50" width="5.8" height="5.8" fill="none" stroke="#2020a6" stroke-width="1.15"/><rect x="580.30" y="335.10" width="5.8" height="5.8" fill="none" stroke="#2020a6" stroke-width="1.15"/><rect x="468.50" y="343.90" width="4.2" height="4.2" fill="none" stroke="#bb2a2a" stroke-width="1.15"/><rect x="536.10" y="347.60" width="5.8" height="5.8" fill="none" stroke="#bb2a2a" stroke-width="1.15"/><rect x="572.20" y="337.90" width="5.8" height="5.8" fill="none" stroke="#bb2a2a" stroke-width="1.15"/><rect x="580.30" y="344.00" width="5.8" height="5.8" fill="none" stroke="#bb2a2a" stroke-width="1.15"/><rect x="468.30" y="342.90" width="4.6" height="4.6" fill="#000"/><rect x="537.00" y="343.50" width="4.0" height="4.0" fill="#000"/><rect x="573.10" y="337.40" width="4.0" height="4.0" fill="#000"/><rect x="581.20" y="337.90" width="4.0" height="4.0" fill="#000"/></g>
<path d="M468.30 394.90h3.2M597.30 394.90h-3.2M468.30 390.47h6.4M597.30 390.47h-6.4M468.30 386.05h3.2M597.30 386.05h-3.2M468.30 381.62h3.2M597.30 381.62h-3.2M468.30 377.20h3.2M597.30 377.20h-3.2M468.30 372.77h3.2M597.30 372.77h-3.2M468.30 368.35h6.4M597.30 368.35h-6.4M468.30 363.92h3.2M597.30 363.92h-3.2M468.30 359.50h3.2M597.30 359.50h-3.2M468.30 355.07h3.2M597.30 355.07h-3.2M468.30 350.65h3.2M597.30 350.65h-3.2M468.30 346.23h6.4M597.30 346.23h-6.4M468.30 341.80h3.2M597.30 341.80h-3.2M468.30 337.38h3.2M597.30 337.38h-3.2M468.30 332.95h3.2M597.30 332.95h-3.2M468.30 328.52h3.2M597.30 328.52h-3.2M468.30 324.10h6.4M597.30 324.10h-6.4M468.30 319.68h3.2M597.30 319.68h-3.2M468.30 315.25h3.2M597.30 315.25h-3.2M468.30 310.82h3.2M597.30 310.82h-3.2M468.30 306.40h3.2M597.30 306.40h-3.2M468.30 301.98h6.4M597.30 301.98h-6.4M468.30 297.55h3.2M597.30 297.55h-3.2M468.30 394.90v-5.3M468.30 297.55v5.3M474.75 394.90v-2.6M474.75 297.55v2.6M481.20 394.90v-2.6M481.20 297.55v2.6M487.65 394.90v-2.6M487.65 297.55v2.6M494.10 394.90v-5.3M494.10 297.55v5.3M500.55 394.90v-2.6M500.55 297.55v2.6M507.00 394.90v-2.6M507.00 297.55v2.6M513.45 394.90v-2.6M513.45 297.55v2.6M519.90 394.90v-5.3M519.90 297.55v5.3M526.35 394.90v-2.6M526.35 297.55v2.6M532.80 394.90v-2.6M532.80 297.55v2.6M539.25 394.90v-2.6M539.25 297.55v2.6M545.70 394.90v-5.3M545.70 297.55v5.3M552.15 394.90v-2.6M552.15 297.55v2.6M558.60 394.90v-2.6M558.60 297.55v2.6M565.05 394.90v-2.6M565.05 297.55v2.6M571.50 394.90v-5.3M571.50 297.55v5.3M577.95 394.90v-2.6M577.95 297.55v2.6M584.40 394.90v-2.6M584.40 297.55v2.6M590.85 394.90v-2.6M590.85 297.55v2.6M597.30 394.90v-5.3M597.30 297.55v5.3" stroke="#444" stroke-width="0.9" fill="none"/>
<rect x="468.30" y="297.55" width="129.00" height="97.35" fill="none" stroke="#444" stroke-width="1.1"/>
<text x="459.90" y="305.28" text-anchor="end" font-size="12.5" textLength="15.8" lengthAdjust="spacingAndGlyphs">0.1</text>
<text x="459.90" y="327.40" text-anchor="end" font-size="12.5" textLength="22.2" lengthAdjust="spacingAndGlyphs">0.05</text>
<text x="459.90" y="349.53" text-anchor="end" font-size="12.5" textLength="6.4" lengthAdjust="spacingAndGlyphs">0</text>
<text x="459.90" y="371.65" text-anchor="end" font-size="12.5" textLength="30.8" lengthAdjust="spacingAndGlyphs">−0.05</text>
<text x="459.90" y="393.77" text-anchor="end" font-size="12.5" textLength="24.4" lengthAdjust="spacingAndGlyphs">−0.1</text>
<text x="578.30" y="313.05" text-anchor="middle" font-size="15">(i)</text>
<text x="45.30" y="213.30" text-anchor="middle" font-size="12.5" textLength="6.4" lengthAdjust="spacingAndGlyphs">0</text>
<text x="71.14" y="213.30" text-anchor="middle" font-size="12.5" textLength="15.8" lengthAdjust="spacingAndGlyphs">0.2</text>
<text x="96.98" y="213.30" text-anchor="middle" font-size="12.5" textLength="15.8" lengthAdjust="spacingAndGlyphs">0.4</text>
<text x="122.82" y="213.30" text-anchor="middle" font-size="12.5" textLength="15.8" lengthAdjust="spacingAndGlyphs">0.6</text>
<text x="148.66" y="213.30" text-anchor="middle" font-size="12.5" textLength="15.8" lengthAdjust="spacingAndGlyphs">0.8</text>
<text x="174.50" y="213.30" text-anchor="middle" font-size="12.5" textLength="6.4" lengthAdjust="spacingAndGlyphs">1</text>
<text x="106.90" y="229.50" text-anchor="middle" font-size="12.2" textLength="47.8" lengthAdjust="spacingAndGlyphs">Redshift</text>
<text x="258.40" y="310.65" text-anchor="middle" font-size="12.5" textLength="6.4" lengthAdjust="spacingAndGlyphs">0</text>
<text x="284.22" y="310.65" text-anchor="middle" font-size="12.5" textLength="15.8" lengthAdjust="spacingAndGlyphs">0.2</text>
<text x="310.04" y="310.65" text-anchor="middle" font-size="12.5" textLength="15.8" lengthAdjust="spacingAndGlyphs">0.4</text>
<text x="335.86" y="310.65" text-anchor="middle" font-size="12.5" textLength="15.8" lengthAdjust="spacingAndGlyphs">0.6</text>
<text x="361.68" y="310.65" text-anchor="middle" font-size="12.5" textLength="15.8" lengthAdjust="spacingAndGlyphs">0.8</text>
<text x="387.50" y="310.65" text-anchor="middle" font-size="12.5" textLength="6.4" lengthAdjust="spacingAndGlyphs">1</text>
<text x="319.95" y="326.85" text-anchor="middle" font-size="12.2" textLength="47.8" lengthAdjust="spacingAndGlyphs">Redshift</text>
<text x="468.30" y="408.00" text-anchor="middle" font-size="12.5" textLength="6.4" lengthAdjust="spacingAndGlyphs">0</text>
<text x="494.10" y="408.00" text-anchor="middle" font-size="12.5" textLength="15.8" lengthAdjust="spacingAndGlyphs">0.2</text>
<text x="519.90" y="408.00" text-anchor="middle" font-size="12.5" textLength="15.8" lengthAdjust="spacingAndGlyphs">0.4</text>
<text x="545.70" y="408.00" text-anchor="middle" font-size="12.5" textLength="15.8" lengthAdjust="spacingAndGlyphs">0.6</text>
<text x="571.50" y="408.00" text-anchor="middle" font-size="12.5" textLength="15.8" lengthAdjust="spacingAndGlyphs">0.8</text>
<text x="597.30" y="408.00" text-anchor="middle" font-size="12.5" textLength="6.4" lengthAdjust="spacingAndGlyphs">1</text>
<text x="529.80" y="424.20" text-anchor="middle" font-size="12.2" textLength="47.8" lengthAdjust="spacingAndGlyphs">Redshift</text>
<text transform="translate(8.90,84.20) rotate(-90)" font-size="12.2" textLength="6.80" lengthAdjust="spacingAndGlyphs" stroke="#333" stroke-width="0.15">Δ</text>
<text transform="translate(8.90,70.20) rotate(-90)" font-size="12.2" textLength="16.40" lengthAdjust="spacingAndGlyphs" stroke="#333" stroke-width="0.15">log</text>
<text transform="translate(8.90,46.50) rotate(-90)" font-size="12.2" textLength="22.30" lengthAdjust="spacingAndGlyphs" stroke="#333" stroke-width="0.15">M/L</text>
<text transform="translate(8.90,181.55) rotate(-90)" font-size="12.2" textLength="6.80" lengthAdjust="spacingAndGlyphs" stroke="#333" stroke-width="0.15">Δ</text>
<text transform="translate(8.90,167.55) rotate(-90)" font-size="12.2" textLength="16.40" lengthAdjust="spacingAndGlyphs" stroke="#333" stroke-width="0.15">log</text>
<text transform="translate(8.90,143.85) rotate(-90)" font-size="12.2" textLength="22.30" lengthAdjust="spacingAndGlyphs" stroke="#333" stroke-width="0.15">M/L</text>
<text transform="translate(218.70,85.60) rotate(-90)" font-size="11.6" textLength="6.80" lengthAdjust="spacingAndGlyphs" stroke="#333" stroke-width="0.15">Δ</text>
<text transform="translate(218.70,72.10) rotate(-90)" font-size="11.6" textLength="16.70" lengthAdjust="spacingAndGlyphs" stroke="#333" stroke-width="0.15">log</text>
<text transform="translate(218.70,48.10) rotate(-90)" font-size="11.6" textLength="14.20" lengthAdjust="spacingAndGlyphs" stroke="#333" stroke-width="0.15">Hβ</text>
<text transform="translate(220.80,33.10) rotate(-90)" font-size="7.0" textLength="4.00" lengthAdjust="spacingAndGlyphs" stroke="#333" stroke-width="0.15">G</text>
<text transform="translate(218.70,184.60) rotate(-90)" font-size="11.6" textLength="6.80" lengthAdjust="spacingAndGlyphs" stroke="#333" stroke-width="0.15">Δ</text>
<text transform="translate(218.70,171.10) rotate(-90)" font-size="11.6" textLength="17.30" lengthAdjust="spacingAndGlyphs" stroke="#333" stroke-width="0.15">log</text>
<text transform="translate(218.70,147.40) rotate(-90)" font-size="11.6" textLength="22.60" lengthAdjust="spacingAndGlyphs" stroke="#333" stroke-width="0.15">Mgb</text>
<text transform="translate(218.70,281.90) rotate(-90)" font-size="11.6" textLength="7.10" lengthAdjust="spacingAndGlyphs" stroke="#333" stroke-width="0.15">Δ</text>
<text transform="translate(218.70,267.80) rotate(-90)" font-size="11.6" textLength="16.10" lengthAdjust="spacingAndGlyphs" stroke="#333" stroke-width="0.15">log</text>
<text transform="translate(218.70,244.20) rotate(-90)" font-size="11.6" textLength="27.70" lengthAdjust="spacingAndGlyphs" stroke="#333" stroke-width="0.15">&lt;Fe&gt;</text>
<text transform="translate(428.50,93.30) rotate(-90)" font-size="11.6" textLength="6.80" lengthAdjust="spacingAndGlyphs" stroke="#333" stroke-width="0.15">Δ</text>
<text transform="translate(428.50,79.30) rotate(-90)" font-size="11.6" textLength="57.50" lengthAdjust="spacingAndGlyphs" stroke="#333" stroke-width="0.15">(Hδ<tspan font-size="7.4" dy="2.3">A</tspan><tspan dy="-2.3">+Hγ</tspan><tspan font-size="7.4" dy="2.3">A</tspan><tspan dy="-2.3">)′</tspan></text>
<text transform="translate(428.50,187.20) rotate(-90)" font-size="11.6" textLength="6.80" lengthAdjust="spacingAndGlyphs" stroke="#333" stroke-width="0.15">Δ</text>
<text transform="translate(428.50,173.60) rotate(-90)" font-size="11.6" textLength="16.50" lengthAdjust="spacingAndGlyphs" stroke="#333" stroke-width="0.15">log</text>
<text transform="translate(428.50,150.10) rotate(-90)" font-size="11.6" textLength="34.20" lengthAdjust="spacingAndGlyphs" stroke="#333" stroke-width="0.15">C4668</text>
<text transform="translate(428.50,288.10) rotate(-90)" font-size="11.6" textLength="6.80" lengthAdjust="spacingAndGlyphs" stroke="#333" stroke-width="0.15">Δ</text>
<text transform="translate(428.50,274.20) rotate(-90)" font-size="11.6" textLength="16.40" lengthAdjust="spacingAndGlyphs" stroke="#333" stroke-width="0.15">log</text>
<text transform="translate(428.50,250.00) rotate(-90)" font-size="11.6" textLength="39.80" lengthAdjust="spacingAndGlyphs" stroke="#333" stroke-width="0.15">Fe4383</text>
<text transform="translate(428.50,374.20) rotate(-90)" font-size="11.6" textLength="6.60" lengthAdjust="spacingAndGlyphs" stroke="#333" stroke-width="0.15">Δ</text>
<text transform="translate(428.50,361.00) rotate(-90)" font-size="11.6" textLength="42.60" lengthAdjust="spacingAndGlyphs" stroke="#333" stroke-width="0.15">CN3883</text>
<text x="58.20" y="96.30" font-size="8.6" textLength="21.20" lengthAdjust="spacingAndGlyphs" fill="#2a2a2a" stroke="#2a2a2a" stroke-width="0.25">From</text>
<text x="83.40" y="96.30" font-size="8.6" textLength="15.70" lengthAdjust="spacingAndGlyphs" fill="#2a2a2a" stroke="#2a2a2a" stroke-width="0.25">M/L</text>
<text x="103.60" y="96.30" font-size="8.6" textLength="7.70" lengthAdjust="spacingAndGlyphs" fill="#2a2a2a" stroke="#2a2a2a" stroke-width="0.25">vs</text>
<text x="115.60" y="96.30" font-size="8.6" textLength="17.60" lengthAdjust="spacingAndGlyphs" fill="#2a2a2a" stroke="#2a2a2a" stroke-width="0.25">Mass</text>
<text x="58.20" y="193.60" font-size="8.6" textLength="21.20" lengthAdjust="spacingAndGlyphs" fill="#2a2a2a" stroke="#2a2a2a" stroke-width="0.25">From</text>
<text x="83.40" y="193.60" font-size="8.6" textLength="15.70" lengthAdjust="spacingAndGlyphs" fill="#2a2a2a" stroke="#2a2a2a" stroke-width="0.25">M/L</text>
<text x="103.60" y="193.60" font-size="8.6" textLength="7.70" lengthAdjust="spacingAndGlyphs" fill="#2a2a2a" stroke="#2a2a2a" stroke-width="0.25">vs</text>
<text x="114.90" y="193.60" font-size="8.6" textLength="5.00" lengthAdjust="spacingAndGlyphs" fill="#2a2a2a"><tspan font-style="italic">σ</tspan></text>
<text x="178.8" y="52.5" font-size="8.6" fill="#dc4a4a" stroke="#dc4a4a" stroke-width="0.3" textLength="16.6" lengthAdjust="spacingAndGlyphs">z<tspan font-size="6" dy="1.8">f</tspan><tspan dy="-1.8">=4</tspan></text>
<text x="178.8" y="61.5" font-size="8.6" fill="#dc4a4a" stroke="#dc4a4a" stroke-width="0.3" textLength="24.0" lengthAdjust="spacingAndGlyphs">z<tspan font-size="6" dy="1.8">f</tspan><tspan dy="-1.8">=2.2</tspan></text>
<text x="178.8" y="71.0" font-size="8.6" fill="#4cc84c" stroke="#4cc84c" stroke-width="0.3" textLength="23.8" lengthAdjust="spacingAndGlyphs">z<tspan font-size="6" dy="1.8">f</tspan><tspan dy="-1.8">=1.8</tspan></text>
<text x="178.8" y="85.0" font-size="8.6" fill="#3434b4" stroke="#3434b4" stroke-width="0.3" textLength="23.4" lengthAdjust="spacingAndGlyphs">z<tspan font-size="6" dy="1.8">f</tspan><tspan dy="-1.8">=1.4</tspan></text>
<text x="178.8" y="98.5" font-size="8.6" fill="#3434b4" stroke="#3434b4" stroke-width="0.3" textLength="24.0" lengthAdjust="spacingAndGlyphs">z<tspan font-size="6" dy="1.8">f</tspan><tspan dy="-1.8">=1.2</tspan></text>
</svg>
</body></html>
